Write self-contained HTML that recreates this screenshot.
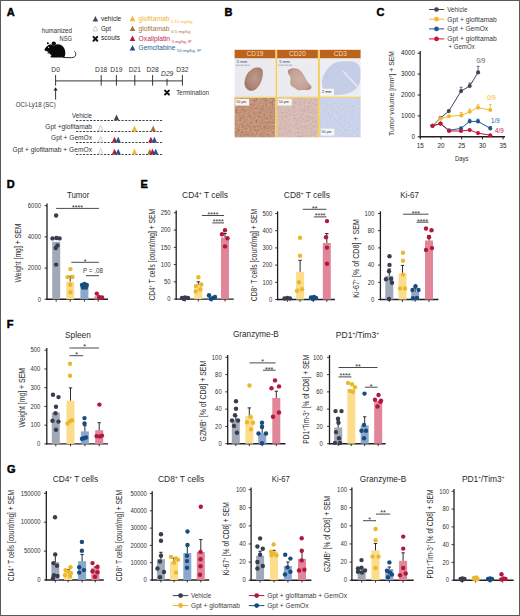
<!DOCTYPE html>
<html><head><meta charset="utf-8"><title>Figure</title>
<style>
html,body{margin:0;padding:0;background:#fff;}
svg{display:block;}
text{font-family:"Liberation Sans", sans-serif;}
</style></head>
<body>
<svg width="520" height="616" viewBox="0 0 520 616">
<defs>
<radialGradient id="g19" cx="0.55" cy="0.45" r="0.6"><stop offset="0" stop-color="#bd9a8a"/><stop offset="0.7" stop-color="#ad8574"/><stop offset="1" stop-color="#9c7462"/></radialGradient>
<radialGradient id="g20" cx="0.5" cy="0.5" r="0.6"><stop offset="0" stop-color="#cdb0a8"/><stop offset="0.75" stop-color="#c2a196"/><stop offset="1" stop-color="#b08c80"/></radialGradient>
<filter id="tex1" x="0" y="0" width="1" height="1" color-interpolation-filters="sRGB"><feTurbulence type="fractalNoise" baseFrequency="0.5" numOctaves="2" seed="3" result="n"/>
<feColorMatrix in="n" type="matrix" values="0 0 0 0 0.60  0 0 0 0 0.39  0 0 0 0 0.30  2.0 0 0 0 -0.9" result="d"/>
<feColorMatrix in="n" type="matrix" values="0 0 0 0 0.86  0 0 0 0 0.70  0 0 0 0 0.60  0 1.8 0 0 -0.85" result="l"/>
<feMerge result="m"><feMergeNode in="d"/><feMergeNode in="l"/></feMerge><feComposite in="m" in2="SourceGraphic" operator="atop"/></filter>
<filter id="tex2" x="0" y="0" width="1" height="1" color-interpolation-filters="sRGB"><feTurbulence type="fractalNoise" baseFrequency="0.5" numOctaves="2" seed="5" result="n"/>
<feColorMatrix in="n" type="matrix" values="0 0 0 0 0.74  0 0 0 0 0.60  0 0 0 0 0.58  1.8 0 0 0 -0.85" result="d"/>
<feColorMatrix in="n" type="matrix" values="0 0 0 0 0.90  0 0 0 0 0.82  0 0 0 0 0.81  0 1.6 0 0 -0.8" result="l"/>
<feMerge result="m"><feMergeNode in="d"/><feMergeNode in="l"/></feMerge><feComposite in="m" in2="SourceGraphic" operator="atop"/></filter>
<filter id="tex3" x="0" y="0" width="1" height="1" color-interpolation-filters="sRGB"><feTurbulence type="fractalNoise" baseFrequency="0.5" numOctaves="2" seed="7" result="n"/>
<feColorMatrix in="n" type="matrix" values="0 0 0 0 0.68  0 0 0 0 0.74  0 0 0 0 0.87  1.6 0 0 0 -0.8" result="d"/>
<feColorMatrix in="n" type="matrix" values="0 0 0 0 0.88  0 0 0 0 0.90  0 0 0 0 0.96  0 1.6 0 0 -0.8" result="l"/>
<feMerge result="m"><feMergeNode in="d"/><feMergeNode in="l"/></feMerge><feComposite in="m" in2="SourceGraphic" operator="atop"/></filter>
</defs>
<rect x="0" y="0" width="520" height="616" fill="#fff"/>
<text x="6.80" y="16.00" font-size="11" fill="#000" font-weight="bold" stroke="#000" stroke-width="0.45">A</text>
<text x="72.00" y="32.80" font-size="6.8" text-anchor="end" fill="#333" textLength="30.30" lengthAdjust="spacingAndGlyphs">humanized</text>
<text x="72.00" y="40.50" font-size="6.6" text-anchor="end" fill="#333" textLength="12.50" lengthAdjust="spacingAndGlyphs">NSG</text>
<path d="M44.4,49.7 C45.2,47.8 46.8,46.0 48.6,45.0 C50.2,44.3 52.5,44.6 54.5,45.2 C56.5,43.9 59.5,44.0 61.8,45.6 C64.2,47.4 65.6,50.5 65.3,53.5 C65.2,55.2 64.8,56.4 64.2,57.4 L51.5,57.4 C50.4,57.4 50.1,56.8 50.8,56.3 L51.6,55.8 C50.6,55.0 50.0,54.2 49.8,53.6 L48.0,53.5 C47.2,53.4 47.1,52.7 47.8,52.5 L48.8,52.2 C48.2,51.7 47.0,51.3 45.8,51.0 C45.0,50.8 44.5,50.3 44.4,49.7 Z" fill="#0a0a0a"/>
<ellipse cx="53.8" cy="43.4" rx="2.15" ry="1.95" fill="#0a0a0a"/>
<path d="M51.9,44.6 C52.6,45.3 53.8,45.5 55.0,45.2" stroke="#777" stroke-width="0.45" fill="none"/>
<circle cx="47.90" cy="43.20" r="1.0" fill="#0a0a0a" />
<circle cx="48.60" cy="47.30" r="0.6" fill="#fff" />
<path d="M63.5,57.5 L71.5,57.7 C74.5,57.7 76.0,56.0 75.8,53.6 C75.7,52.6 75.2,51.8 74.6,51.4" fill="none" stroke="#222" stroke-width="0.95" stroke-linecap="round"/>
<polygon points="92.60,21.40 95.40,15.90 98.20,21.40" fill="#454b5b"/>
<text x="101.00" y="20.90" font-size="6.6" fill="#231f20" textLength="20.20" lengthAdjust="spacingAndGlyphs">vehicle</text>
<polygon points="93.00,31.00 95.40,26.00 97.80,31.00" fill="#fff" stroke="#c2c4d2" stroke-width="0.8" stroke-linejoin="round"/>
<text x="101.00" y="30.80" font-size="6.6" fill="#231f20" textLength="10.00" lengthAdjust="spacingAndGlyphs">Gpt</text>
<path d="M93.50,36.90L97.30,40.70M97.30,36.90L93.50,40.70" stroke="#111" stroke-width="2.0" stroke-linecap="round"/>
<text x="101.00" y="40.30" font-size="6.6" fill="#231f20" textLength="19.00" lengthAdjust="spacingAndGlyphs">scouts</text>
<polygon points="129.70,21.20 132.50,15.80 135.30,21.20" fill="#f2b630"/>
<text x="138.60" y="21.00" font-size="6.8" fill="#f2b431" textLength="30.80" lengthAdjust="spacingAndGlyphs">glofitamab</text>
<text x="171.00" y="22.60" font-size="3.9" fill="#f2b431" textLength="21.50" lengthAdjust="spacingAndGlyphs">0.15 mg/kg</text>
<polygon points="129.70,31.10 132.50,25.70 135.30,31.10" fill="#a8703a"/>
<text x="138.60" y="31.00" font-size="6.8" fill="#a9733c" textLength="30.80" lengthAdjust="spacingAndGlyphs">glofitamab</text>
<text x="171.00" y="32.60" font-size="3.9" fill="#a9733c" textLength="19.50" lengthAdjust="spacingAndGlyphs">0.5 mg/kg</text>
<polygon points="129.70,40.90 132.50,35.50 135.30,40.90" fill="#b5173f"/>
<text x="138.60" y="40.80" font-size="6.8" fill="#c0284f" textLength="31.50" lengthAdjust="spacingAndGlyphs">Oxaliplatin</text>
<text x="172.00" y="42.60" font-size="3.9" fill="#c0284f" textLength="19.50" lengthAdjust="spacingAndGlyphs">5 mg/kg, IP</text>
<polygon points="129.70,50.40 132.50,45.00 135.30,50.40" fill="#1d4f86"/>
<text x="138.60" y="50.30" font-size="6.8" fill="#2a5f93" textLength="36.70" lengthAdjust="spacingAndGlyphs">Gemcitabine</text>
<text x="177.00" y="52.20" font-size="3.9" fill="#2a5f93" textLength="24.00" lengthAdjust="spacingAndGlyphs">50 mg/kg, IP</text>
<line x1="55.60" y1="80.90" x2="182.40" y2="80.90" stroke="#231f20" stroke-width="0.9" />
<line x1="55.60" y1="75.00" x2="55.60" y2="85.60" stroke="#231f20" stroke-width="0.9" />
<text x="55.60" y="71.80" font-size="6.7" text-anchor="middle" fill="#333">D0</text>
<line x1="101.20" y1="75.00" x2="101.20" y2="85.60" stroke="#231f20" stroke-width="0.9" />
<text x="101.20" y="71.80" font-size="6.7" text-anchor="middle" fill="#333">D18</text>
<line x1="116.40" y1="75.00" x2="116.40" y2="85.60" stroke="#231f20" stroke-width="0.9" />
<text x="116.40" y="71.80" font-size="6.7" text-anchor="middle" fill="#333">D19</text>
<line x1="134.80" y1="75.00" x2="134.80" y2="85.60" stroke="#231f20" stroke-width="0.9" />
<text x="134.80" y="71.80" font-size="6.7" text-anchor="middle" fill="#333">D21</text>
<line x1="152.60" y1="75.00" x2="152.60" y2="85.60" stroke="#231f20" stroke-width="0.9" />
<text x="152.60" y="71.80" font-size="6.7" text-anchor="middle" fill="#333">D28</text>
<line x1="182.40" y1="75.00" x2="182.40" y2="85.60" stroke="#231f20" stroke-width="0.9" />
<text x="182.40" y="71.80" font-size="6.7" text-anchor="middle" fill="#333">D32</text>
<line x1="167.00" y1="78.80" x2="167.00" y2="85.60" stroke="#231f20" stroke-width="0.9" />
<text x="167.20" y="75.60" font-size="6.7" text-anchor="middle" fill="#333" font-style="italic">D29</text>
<line x1="55.60" y1="99.60" x2="55.60" y2="89.50" stroke="#231f20" stroke-width="0.9" />
<polygon points="53.6,90.6 55.6,87.2 57.6,90.6" fill="#231f20"/>
<text x="15.80" y="106.80" font-size="6.6" fill="#333" textLength="40.00" lengthAdjust="spacingAndGlyphs">OCI-Ly18 (SC)</text>
<path d="M165.05,90.65L168.95,94.55M168.95,90.65L165.05,94.55" stroke="#111" stroke-width="2.0" stroke-linecap="round"/>
<text x="176.20" y="94.50" font-size="6.4" fill="#333" textLength="32.80" lengthAdjust="spacingAndGlyphs">Termination</text>
<line x1="76.0" y1="120.5" x2="162.1" y2="120.5" stroke="#444" stroke-width="1.0" stroke-dasharray="2.2,1.3"/>
<text x="92.00" y="118.20" font-size="6.3" text-anchor="end" fill="#333" textLength="20.00" lengthAdjust="spacingAndGlyphs">Vehicle</text>
<line x1="76.0" y1="131.5" x2="162.1" y2="131.5" stroke="#444" stroke-width="1.0" stroke-dasharray="2.2,1.3"/>
<text x="92.00" y="129.20" font-size="6.3" text-anchor="end" fill="#333" textLength="46.70" lengthAdjust="spacingAndGlyphs">Gpt +glofitamab</text>
<line x1="76.0" y1="142.5" x2="162.1" y2="142.5" stroke="#444" stroke-width="1.0" stroke-dasharray="2.2,1.3"/>
<text x="92.00" y="140.20" font-size="6.3" text-anchor="end" fill="#333" textLength="40.90" lengthAdjust="spacingAndGlyphs">Gpt + GemOx</text>
<line x1="76.0" y1="154.5" x2="162.1" y2="154.5" stroke="#444" stroke-width="1.0" stroke-dasharray="2.2,1.3"/>
<text x="92.00" y="152.20" font-size="6.3" text-anchor="end" fill="#333" textLength="79.50" lengthAdjust="spacingAndGlyphs">Gpt + glofitamab + GemOx</text>
<polygon points="113.80,120.20 116.50,114.40 119.20,120.20" fill="#3f4554"/>
<polygon points="98.20,130.80 100.60,125.30 103.00,130.80" fill="#fff" stroke="#c0c2cf" stroke-width="0.8" stroke-linejoin="round"/>
<polygon points="98.20,142.10 100.60,136.60 103.00,142.10" fill="#fff" stroke="#c0c2cf" stroke-width="0.8" stroke-linejoin="round"/>
<polygon points="98.20,154.10 100.60,148.60 103.00,154.10" fill="#fff" stroke="#c0c2cf" stroke-width="0.8" stroke-linejoin="round"/>
<polygon points="131.80,131.20 134.50,125.40 137.20,131.20" fill="#f2b630"/>
<polygon points="150.50,131.20 153.20,125.40 155.90,131.20" fill="#b06f35"/>
<polygon points="111.80,142.50 114.50,136.70 117.20,142.50" fill="#b8173f"/>
<polygon points="115.50,142.50 118.20,136.70 120.90,142.50" fill="#1e5a8c"/>
<polygon points="111.80,154.50 114.50,148.70 117.20,154.50" fill="#b8173f"/>
<polygon points="115.50,154.50 118.20,148.70 120.90,154.50" fill="#1e5a8c"/>
<polygon points="148.20,142.50 150.90,136.70 153.60,142.50" fill="#b8173f"/>
<polygon points="151.70,142.50 154.40,136.70 157.10,142.50" fill="#1e5a8c"/>
<polygon points="131.80,154.50 134.50,148.70 137.20,154.50" fill="#f2b630"/>
<polygon points="147.20,154.50 149.90,148.70 152.60,154.50" fill="#b06f35"/>
<polygon points="149.80,154.50 152.50,148.70 155.20,154.50" fill="#b8173f"/>
<polygon points="153.00,154.50 155.70,148.70 158.40,154.50" fill="#1e5a8c"/>
<text x="224.60" y="16.40" font-size="11" fill="#000" font-weight="bold" stroke="#000" stroke-width="0.45">B</text>
<rect x="234.60" y="49.80" width="40.90" height="8.70" fill="#b9631d" />
<text x="255.05" y="56.30" font-size="6.6" text-anchor="middle" fill="#f9dcb0">CD19</text>
<rect x="277.10" y="49.80" width="40.80" height="8.70" fill="#b9631d" />
<text x="297.50" y="56.30" font-size="6.6" text-anchor="middle" fill="#f9dcb0">CD20</text>
<rect x="319.90" y="49.80" width="40.70" height="8.70" fill="#b9631d" />
<text x="340.25" y="56.30" font-size="6.6" text-anchor="middle" fill="#f9dcb0">CD3</text>
<rect x="234.60" y="58.50" width="40.90" height="38.00" fill="#ebeaef" />
<rect x="277.10" y="58.50" width="40.80" height="38.00" fill="#ecebef" />
<rect x="319.90" y="58.50" width="40.70" height="38.00" fill="#eceef4" />
<rect x="234.60" y="98.00" width="40.90" height="39.30" fill="#c4957a" filter="url(#tex1)"/>
<rect x="277.10" y="98.00" width="40.80" height="39.30" fill="#d8bdb7" filter="url(#tex2)"/>
<rect x="319.90" y="98.00" width="40.70" height="39.30" fill="#cbd3ea" filter="url(#tex3)"/>
<rect x="275.50" y="49.80" width="1.60" height="87.50" fill="#f3cf5e" />
<rect x="317.90" y="49.80" width="2.00" height="87.50" fill="#f3cf5e" />
<rect x="234.60" y="96.50" width="126.00" height="1.50" fill="#f1d27a" />
<path d="M251.5,70.0 C254,67.6 258.5,67.0 261.0,68.6 C263.2,70.4 262.8,75.0 261.5,79.5 C260.0,84.5 257.0,89.5 252.5,90.4 C248.5,91.0 245.5,88.5 244.9,84.5 C244.4,80.5 246.0,76.5 247.8,73.5 C248.8,72.0 250.0,70.9 251.5,70.0 Z" fill="url(#g19)" stroke="#9a7262" stroke-width="0.5"/>
<path d="M288.5,69.8 C291,67.8 295.5,67.8 298.5,69.2 C301.5,70.8 303,73.5 304.8,77 C306.5,80.5 308.5,83.2 311,85.8 C312.3,87.6 311,89.6 308.2,89.9 C305,90.3 302.5,89.6 300.5,90.2 C298.5,90.8 296.8,89.5 295.5,88.5 C293,87 290.5,86.2 290.2,83.5 C290,80.8 291.2,78.5 289.8,76.2 C288.2,74 287,71.8 288.5,69.8 Z" fill="url(#g20)"/>
<path d="M322.0,80.5 C323.5,73 328.5,66 335.5,62.5 C340,61.2 347,61.0 352.5,61.5 C357,62.2 360.2,65.5 360.4,70.5 L360.4,79.5 C360,84.5 357.5,88.5 352.5,91.2 C346.5,94.5 338.5,95.6 331.5,94.8 C326,94 322.6,89.8 322.1,85.5 C321.9,83.8 321.8,82.2 322.0,80.5 Z" fill="#c6cde7"/>
<path d="M343.5,71.5 C347.5,76 352,81 357.5,86.5" stroke="#e4e7f1" stroke-width="1.8" stroke-linecap="round" fill="none"/>
<path d="M336,64 C331,68 327,74 325.5,80" stroke="#b8c0de" stroke-width="0.8" fill="none" opacity="0.6"/>
<text x="236.80" y="63.00" font-size="3.8" fill="#2c4a7a" textLength="10.50" lengthAdjust="spacingAndGlyphs">5 mm</text>
<line x1="235.80" y1="65.2" x2="249.80" y2="65.2" stroke="#3a5a8a" stroke-width="0.6" stroke-dasharray="0.8,0.5"/>
<text x="279.30" y="63.00" font-size="3.8" fill="#2c4a7a" textLength="10.50" lengthAdjust="spacingAndGlyphs">5 mm</text>
<line x1="278.30" y1="65.2" x2="292.30" y2="65.2" stroke="#3a5a8a" stroke-width="0.6" stroke-dasharray="0.8,0.5"/>
<rect x="321.00" y="88.80" width="13.00" height="6.60" fill="#f6f6f8" />
<text x="322.00" y="93.30" font-size="3.8" fill="#222" textLength="9.50" lengthAdjust="spacingAndGlyphs">2 mm</text>
<rect x="235.20" y="98.80" width="14.00" height="6.80" fill="#f8f4f0" />
<text x="236.20" y="103.00" font-size="3.6" fill="#333" textLength="10.00" lengthAdjust="spacingAndGlyphs">50 µm</text>
<rect x="277.70" y="98.80" width="14.00" height="6.80" fill="#f8f4f0" />
<text x="278.70" y="103.00" font-size="3.6" fill="#333" textLength="10.00" lengthAdjust="spacingAndGlyphs">50 µm</text>
<rect x="320.80" y="128.60" width="13.50" height="7.00" fill="#f6f7fa" />
<text x="321.60" y="133.00" font-size="3.6" fill="#333" textLength="10.00" lengthAdjust="spacingAndGlyphs">50 µm</text>
<text x="376.60" y="16.30" font-size="11" fill="#000" font-weight="bold" stroke="#000" stroke-width="0.45">C</text>
<line x1="429.00" y1="9.50" x2="444.20" y2="9.50" stroke="#3d4656" stroke-width="1.0" />
<circle cx="436.50" cy="9.50" r="2.35" fill="#3d4656" />
<text x="447.30" y="11.90" font-size="6.5" fill="#3a3a3a" textLength="20.10" lengthAdjust="spacingAndGlyphs">Vehicle</text>
<line x1="429.00" y1="19.20" x2="444.20" y2="19.20" stroke="#f3b82d" stroke-width="1.0" />
<circle cx="436.50" cy="19.20" r="2.35" fill="#f3b82d" />
<text x="447.30" y="21.60" font-size="6.5" fill="#3a3a3a" textLength="49.40" lengthAdjust="spacingAndGlyphs">Gpt + glofitamab</text>
<line x1="429.00" y1="28.90" x2="444.20" y2="28.90" stroke="#1b5a93" stroke-width="1.0" />
<circle cx="436.50" cy="28.90" r="2.35" fill="#1b5a93" />
<text x="447.30" y="31.30" font-size="6.5" fill="#3a3a3a" textLength="40.80" lengthAdjust="spacingAndGlyphs">Gpt + GemOx</text>
<line x1="429.00" y1="38.90" x2="444.20" y2="38.90" stroke="#c8103e" stroke-width="1.0" />
<circle cx="436.50" cy="38.90" r="2.35" fill="#c8103e" />
<text x="447.30" y="41.30" font-size="6.5" fill="#3a3a3a" textLength="49.40" lengthAdjust="spacingAndGlyphs">Gpt + glofitamab</text>
<text x="448.40" y="49.00" font-size="6.5" fill="#3a3a3a" textLength="26.30" lengthAdjust="spacingAndGlyphs">+ GemOx</text>
<line x1="420.20" y1="50.90" x2="420.20" y2="137.40" stroke="#231f20" stroke-width="1.3" />
<line x1="419.60" y1="136.80" x2="505.00" y2="136.80" stroke="#231f20" stroke-width="1.4" />
<line x1="417.60" y1="136.80" x2="420.20" y2="136.80" stroke="#231f20" stroke-width="1.0" />
<text x="415.00" y="139.00" font-size="6.3" text-anchor="end" fill="#231f20">0</text>
<line x1="417.60" y1="115.90" x2="420.20" y2="115.90" stroke="#231f20" stroke-width="1.0" />
<text x="415.00" y="118.10" font-size="6.3" text-anchor="end" fill="#231f20">1000</text>
<line x1="417.60" y1="95.00" x2="420.20" y2="95.00" stroke="#231f20" stroke-width="1.0" />
<text x="415.00" y="97.20" font-size="6.3" text-anchor="end" fill="#231f20">2000</text>
<line x1="417.60" y1="74.10" x2="420.20" y2="74.10" stroke="#231f20" stroke-width="1.0" />
<text x="415.00" y="76.30" font-size="6.3" text-anchor="end" fill="#231f20">3000</text>
<line x1="417.60" y1="53.20" x2="420.20" y2="53.20" stroke="#231f20" stroke-width="1.0" />
<text x="415.00" y="55.40" font-size="6.3" text-anchor="end" fill="#231f20">4000</text>
<line x1="420.30" y1="136.80" x2="420.30" y2="139.40" stroke="#231f20" stroke-width="1.0" />
<text x="420.30" y="148.40" font-size="6.3" text-anchor="middle" fill="#231f20">15</text>
<line x1="441.00" y1="136.80" x2="441.00" y2="139.40" stroke="#231f20" stroke-width="1.0" />
<text x="441.00" y="148.40" font-size="6.3" text-anchor="middle" fill="#231f20">20</text>
<line x1="461.70" y1="136.80" x2="461.70" y2="139.40" stroke="#231f20" stroke-width="1.0" />
<text x="461.70" y="148.40" font-size="6.3" text-anchor="middle" fill="#231f20">25</text>
<line x1="482.40" y1="136.80" x2="482.40" y2="139.40" stroke="#231f20" stroke-width="1.0" />
<text x="482.40" y="148.40" font-size="6.3" text-anchor="middle" fill="#231f20">30</text>
<line x1="503.10" y1="136.80" x2="503.10" y2="139.40" stroke="#231f20" stroke-width="1.0" />
<text x="503.10" y="148.40" font-size="6.3" text-anchor="middle" fill="#231f20">35</text>
<text x="455.00" y="160.60" font-size="7.6" fill="#2e2e2e" textLength="13.40" lengthAdjust="spacingAndGlyphs">Days</text>
<text x="394.30" y="136.00" font-size="7.2" fill="#2e2e2e" textLength="85.00" lengthAdjust="spacingAndGlyphs" transform="rotate(-90 394.30 136.00)">Tumor volume [mm<tspan font-size="4.2" dy="-2.6">3</tspan><tspan dy="2.6">] + SEM</tspan></text>
<line x1="461.10" y1="91.10" x2="461.10" y2="87.30" stroke="#3d4656" stroke-width="0.8" />
<line x1="459.70" y1="87.30" x2="462.50" y2="87.30" stroke="#3d4656" stroke-width="0.8" />
<line x1="469.70" y1="86.00" x2="469.70" y2="83.00" stroke="#3d4656" stroke-width="0.8" />
<line x1="468.30" y1="83.00" x2="471.10" y2="83.00" stroke="#3d4656" stroke-width="0.8" />
<line x1="478.10" y1="72.40" x2="478.10" y2="66.30" stroke="#3d4656" stroke-width="0.8" />
<line x1="476.70" y1="66.30" x2="479.50" y2="66.30" stroke="#3d4656" stroke-width="0.8" />
<line x1="461.30" y1="115.40" x2="461.30" y2="112.50" stroke="#f3b82d" stroke-width="0.8" />
<line x1="459.90" y1="112.50" x2="462.70" y2="112.50" stroke="#f3b82d" stroke-width="0.8" />
<line x1="469.70" y1="111.70" x2="469.70" y2="108.80" stroke="#f3b82d" stroke-width="0.8" />
<line x1="468.30" y1="108.80" x2="471.10" y2="108.80" stroke="#f3b82d" stroke-width="0.8" />
<line x1="478.00" y1="107.60" x2="478.00" y2="104.80" stroke="#f3b82d" stroke-width="0.8" />
<line x1="476.60" y1="104.80" x2="479.40" y2="104.80" stroke="#f3b82d" stroke-width="0.8" />
<line x1="490.30" y1="110.00" x2="490.30" y2="104.50" stroke="#f3b82d" stroke-width="0.8" />
<line x1="488.90" y1="104.50" x2="491.70" y2="104.50" stroke="#f3b82d" stroke-width="0.8" />
<line x1="469.70" y1="121.40" x2="469.70" y2="119.20" stroke="#1b5a93" stroke-width="0.8" />
<line x1="468.30" y1="119.20" x2="471.10" y2="119.20" stroke="#1b5a93" stroke-width="0.8" />
<line x1="478.00" y1="121.40" x2="478.00" y2="119.20" stroke="#1b5a93" stroke-width="0.8" />
<line x1="476.60" y1="119.20" x2="479.40" y2="119.20" stroke="#1b5a93" stroke-width="0.8" />
<line x1="490.30" y1="128.40" x2="490.30" y2="126.50" stroke="#1b5a93" stroke-width="0.8" />
<line x1="488.90" y1="126.50" x2="491.70" y2="126.50" stroke="#1b5a93" stroke-width="0.8" />
<path d="M432.5,125.8 L440.5,118.1 L448.8,111.1 L461.1,91.1 L469.7,86.0 L478.1,72.4" fill="none" stroke="#3d4656" stroke-width="1.0"/>
<circle cx="432.50" cy="125.80" r="2.05" fill="#3d4656" />
<circle cx="440.50" cy="118.10" r="2.05" fill="#3d4656" />
<circle cx="448.80" cy="111.10" r="2.05" fill="#3d4656" />
<circle cx="461.10" cy="91.10" r="2.05" fill="#3d4656" />
<circle cx="469.70" cy="86.00" r="2.05" fill="#3d4656" />
<circle cx="478.10" cy="72.40" r="2.05" fill="#3d4656" />
<path d="M432.5,125.8 L440.5,118.6 L449.0,116.3 L461.3,115.4 L469.7,111.7 L478.0,107.6 L490.3,110.0" fill="none" stroke="#f3b82d" stroke-width="1.0"/>
<circle cx="432.50" cy="125.80" r="2.05" fill="#f3b82d" />
<circle cx="440.50" cy="118.60" r="2.05" fill="#f3b82d" />
<circle cx="449.00" cy="116.30" r="2.05" fill="#f3b82d" />
<circle cx="461.30" cy="115.40" r="2.05" fill="#f3b82d" />
<circle cx="469.70" cy="111.70" r="2.05" fill="#f3b82d" />
<circle cx="478.00" cy="107.60" r="2.05" fill="#f3b82d" />
<circle cx="490.30" cy="110.00" r="2.05" fill="#f3b82d" />
<path d="M432.5,125.8 L440.5,123.6 L449.0,130.3 L461.0,128.4 L469.7,121.4 L478.0,121.4 L490.3,128.4" fill="none" stroke="#1b5a93" stroke-width="1.0"/>
<circle cx="432.50" cy="125.80" r="2.05" fill="#1b5a93" />
<circle cx="440.50" cy="123.60" r="2.05" fill="#1b5a93" />
<circle cx="449.00" cy="130.30" r="2.05" fill="#1b5a93" />
<circle cx="461.00" cy="128.40" r="2.05" fill="#1b5a93" />
<circle cx="469.70" cy="121.40" r="2.05" fill="#1b5a93" />
<circle cx="478.00" cy="121.40" r="2.05" fill="#1b5a93" />
<circle cx="490.30" cy="128.40" r="2.05" fill="#1b5a93" />
<path d="M432.5,125.8 L440.5,123.6 L449.0,131.0 L461.0,131.0 L469.7,130.0 L478.0,133.1 L490.3,135.2" fill="none" stroke="#c8103e" stroke-width="1.0"/>
<circle cx="432.50" cy="125.80" r="2.05" fill="#c8103e" />
<circle cx="440.50" cy="123.60" r="2.05" fill="#c8103e" />
<circle cx="449.00" cy="131.00" r="2.05" fill="#c8103e" />
<circle cx="461.00" cy="131.00" r="2.05" fill="#c8103e" />
<circle cx="469.70" cy="130.00" r="2.05" fill="#c8103e" />
<circle cx="478.00" cy="133.10" r="2.05" fill="#c8103e" />
<circle cx="490.30" cy="135.20" r="2.05" fill="#c8103e" />
<text x="481.00" y="63.20" font-size="6.3" text-anchor="middle" fill="#555">0/9</text>
<text x="491.30" y="100.10" font-size="6.3" text-anchor="middle" fill="#f3b82d">0/9</text>
<text x="495.50" y="122.80" font-size="6.3" text-anchor="middle" fill="#2a65a0">1/9</text>
<text x="499.40" y="133.40" font-size="6.3" text-anchor="middle" fill="#c8103e">4/9</text>
<text x="6.80" y="188.20" font-size="11" fill="#000" font-weight="bold" stroke="#000" stroke-width="0.45">D</text>
<line x1="47.00" y1="203.50" x2="47.00" y2="300.00" stroke="#231f20" stroke-width="1.3" />
<line x1="46.35" y1="299.30" x2="108.00" y2="299.30" stroke="#231f20" stroke-width="1.4" />
<line x1="44.60" y1="299.30" x2="47.00" y2="299.30" stroke="#231f20" stroke-width="0.9" />
<text x="41.00" y="301.50" font-size="6.6" text-anchor="end" fill="#333" textLength="3.30" lengthAdjust="spacingAndGlyphs">0</text>
<line x1="44.60" y1="268.10" x2="47.00" y2="268.10" stroke="#231f20" stroke-width="0.9" />
<text x="41.00" y="270.30" font-size="6.6" text-anchor="end" fill="#333" textLength="13.20" lengthAdjust="spacingAndGlyphs">2000</text>
<line x1="44.60" y1="236.90" x2="47.00" y2="236.90" stroke="#231f20" stroke-width="0.9" />
<text x="41.00" y="239.10" font-size="6.6" text-anchor="end" fill="#333" textLength="13.20" lengthAdjust="spacingAndGlyphs">4000</text>
<line x1="44.60" y1="205.70" x2="47.00" y2="205.70" stroke="#231f20" stroke-width="0.9" />
<text x="41.00" y="207.90" font-size="6.6" text-anchor="end" fill="#333" textLength="13.20" lengthAdjust="spacingAndGlyphs">6000</text>
<text x="20.90" y="282.50" font-size="8.2" fill="#2e2e2e" textLength="58.90" lengthAdjust="spacingAndGlyphs" transform="rotate(-90 20.90 282.50)">Weight [mg] + SEM</text>
<text x="67.00" y="198.30" font-size="8.2" fill="#2a2a2a" textLength="22.30" lengthAdjust="spacingAndGlyphs">Tumor</text>
<line x1="56.20" y1="299.30" x2="56.20" y2="301.70" stroke="#231f20" stroke-width="0.9" />
<rect x="52.20" y="241.80" width="8.00" height="57.50" fill="#a1a9b8" />
<circle cx="56.10" cy="215.50" r="2.2" fill="#383d4d" />
<circle cx="52.50" cy="238.40" r="2.2" fill="#383d4d" />
<circle cx="56.40" cy="238.00" r="2.2" fill="#383d4d" />
<circle cx="59.60" cy="238.40" r="2.2" fill="#383d4d" />
<circle cx="57.50" cy="245.40" r="2.2" fill="#383d4d" />
<circle cx="55.70" cy="248.00" r="2.2" fill="#383d4d" />
<circle cx="56.10" cy="264.60" r="2.2" fill="#383d4d" />
<line x1="70.20" y1="299.30" x2="70.20" y2="301.70" stroke="#231f20" stroke-width="0.9" />
<rect x="66.20" y="281.50" width="8.00" height="17.80" fill="#fcdd8c" />
<line x1="70.20" y1="281.50" x2="70.20" y2="276.30" stroke="#2b2b2b" stroke-width="1.0" />
<line x1="68.50" y1="276.30" x2="71.90" y2="276.30" stroke="#2b2b2b" stroke-width="1.0" />
<circle cx="70.40" cy="269.10" r="2.2" fill="#eab82a" />
<circle cx="67.50" cy="277.10" r="2.2" fill="#eab82a" />
<circle cx="72.50" cy="277.00" r="2.2" fill="#eab82a" />
<circle cx="70.20" cy="284.80" r="2.2" fill="#eab82a" />
<circle cx="70.40" cy="292.30" r="2.2" fill="#eab82a" />
<line x1="84.40" y1="299.30" x2="84.40" y2="301.70" stroke="#231f20" stroke-width="0.9" />
<rect x="80.40" y="286.00" width="8.00" height="13.30" fill="#8ca7cb" />
<circle cx="82.00" cy="285.00" r="2.2" fill="#174c7c" />
<circle cx="84.40" cy="284.00" r="2.2" fill="#174c7c" />
<circle cx="86.80" cy="285.00" r="2.2" fill="#174c7c" />
<circle cx="83.00" cy="287.50" r="2.2" fill="#174c7c" />
<circle cx="86.00" cy="287.50" r="2.2" fill="#174c7c" />
<line x1="98.20" y1="299.30" x2="98.20" y2="301.70" stroke="#231f20" stroke-width="0.9" />
<rect x="94.20" y="296.40" width="8.00" height="2.90" fill="#e18598" />
<circle cx="96.80" cy="293.60" r="2.2" fill="#b3173f" />
<circle cx="99.00" cy="297.00" r="2.2" fill="#b3173f" />
<circle cx="102.00" cy="297.50" r="2.2" fill="#b3173f" />
<line x1="56.10" y1="208.40" x2="98.90" y2="208.40" stroke="#4a4a4a" stroke-width="1.0" />
<text x="77.50" y="209.70" font-size="7.0" text-anchor="middle" fill="#2a2a2a">****</text>
<line x1="71.30" y1="262.30" x2="98.90" y2="262.30" stroke="#4a4a4a" stroke-width="1.0" />
<text x="85.10" y="263.60" font-size="7.0" text-anchor="middle" fill="#2a2a2a">*</text>
<line x1="86.00" y1="275.70" x2="98.90" y2="275.70" stroke="#4a4a4a" stroke-width="1.0" />
<text x="82.90" y="272.80" font-size="6.4" fill="#3a3a3a" textLength="20.00" lengthAdjust="spacingAndGlyphs">P = .08</text>
<text x="140.40" y="187.60" font-size="11" fill="#000" font-weight="bold" stroke="#000" stroke-width="0.45">E</text>
<line x1="176.20" y1="210.60" x2="176.20" y2="299.80" stroke="#231f20" stroke-width="1.3" />
<line x1="175.55" y1="299.10" x2="233.80" y2="299.10" stroke="#231f20" stroke-width="1.4" />
<line x1="173.80" y1="299.10" x2="176.20" y2="299.10" stroke="#231f20" stroke-width="0.9" />
<text x="170.60" y="301.30" font-size="6.6" text-anchor="end" fill="#333" textLength="3.30" lengthAdjust="spacingAndGlyphs">0</text>
<line x1="173.80" y1="281.84" x2="176.20" y2="281.84" stroke="#231f20" stroke-width="0.9" />
<text x="170.60" y="284.04" font-size="6.6" text-anchor="end" fill="#333" textLength="6.60" lengthAdjust="spacingAndGlyphs">50</text>
<line x1="173.80" y1="264.58" x2="176.20" y2="264.58" stroke="#231f20" stroke-width="0.9" />
<text x="170.60" y="266.78" font-size="6.6" text-anchor="end" fill="#333" textLength="9.90" lengthAdjust="spacingAndGlyphs">100</text>
<line x1="173.80" y1="247.32" x2="176.20" y2="247.32" stroke="#231f20" stroke-width="0.9" />
<text x="170.60" y="249.52" font-size="6.6" text-anchor="end" fill="#333" textLength="9.90" lengthAdjust="spacingAndGlyphs">150</text>
<line x1="173.80" y1="230.06" x2="176.20" y2="230.06" stroke="#231f20" stroke-width="0.9" />
<text x="170.60" y="232.26" font-size="6.6" text-anchor="end" fill="#333" textLength="9.90" lengthAdjust="spacingAndGlyphs">200</text>
<line x1="173.80" y1="212.80" x2="176.20" y2="212.80" stroke="#231f20" stroke-width="0.9" />
<text x="170.60" y="215.00" font-size="6.6" text-anchor="end" fill="#333" textLength="9.90" lengthAdjust="spacingAndGlyphs">250</text>
<text x="154.60" y="300.60" font-size="8.2" fill="#2e2e2e" textLength="91.60" lengthAdjust="spacingAndGlyphs" transform="rotate(-90 154.60 300.60)">CD4<tspan font-size="0.55em" dy="-3px">+</tspan><tspan dy="3px"> T cells [count/mg] + SEM</tspan></text>
<text x="182.10" y="197.90" font-size="8.2" fill="#2a2a2a" textLength="46.00" lengthAdjust="spacingAndGlyphs">CD4<tspan font-size="0.55em" dy="-3px">+</tspan><tspan dy="3px"> T cells</tspan></text>
<line x1="185.20" y1="299.10" x2="185.20" y2="301.50" stroke="#231f20" stroke-width="0.9" />
<rect x="181.20" y="298.20" width="8.00" height="0.90" fill="#a1a9b8" />
<circle cx="182.00" cy="298.00" r="2.2" fill="#383d4d" />
<circle cx="185.00" cy="297.50" r="2.2" fill="#383d4d" />
<circle cx="188.00" cy="298.00" r="2.2" fill="#383d4d" />
<circle cx="184.00" cy="299.00" r="2.2" fill="#383d4d" />
<line x1="198.30" y1="299.10" x2="198.30" y2="301.50" stroke="#231f20" stroke-width="0.9" />
<rect x="194.30" y="284.50" width="8.00" height="14.60" fill="#fcdd8c" />
<line x1="198.30" y1="284.50" x2="198.30" y2="281.80" stroke="#2b2b2b" stroke-width="1.0" />
<line x1="196.60" y1="281.80" x2="200.00" y2="281.80" stroke="#2b2b2b" stroke-width="1.0" />
<circle cx="198.40" cy="277.20" r="2.2" fill="#eab82a" />
<circle cx="196.00" cy="286.10" r="2.2" fill="#eab82a" />
<circle cx="201.30" cy="284.50" r="2.2" fill="#eab82a" />
<circle cx="200.40" cy="289.40" r="2.2" fill="#eab82a" />
<circle cx="195.70" cy="291.40" r="2.2" fill="#eab82a" />
<line x1="211.60" y1="299.10" x2="211.60" y2="301.50" stroke="#231f20" stroke-width="0.9" />
<rect x="207.60" y="297.00" width="8.00" height="2.10" fill="#8ca7cb" />
<circle cx="209.00" cy="295.30" r="2.2" fill="#174c7c" />
<circle cx="213.00" cy="298.00" r="2.2" fill="#174c7c" />
<circle cx="215.00" cy="297.00" r="2.2" fill="#174c7c" />
<circle cx="211.00" cy="299.00" r="2.2" fill="#174c7c" />
<line x1="225.00" y1="299.10" x2="225.00" y2="301.50" stroke="#231f20" stroke-width="0.9" />
<rect x="221.00" y="237.50" width="8.00" height="61.60" fill="#e18598" />
<line x1="225.00" y1="237.50" x2="225.00" y2="233.50" stroke="#2b2b2b" stroke-width="1.0" />
<line x1="223.30" y1="233.50" x2="226.70" y2="233.50" stroke="#2b2b2b" stroke-width="1.0" />
<circle cx="225.00" cy="230.20" r="2.2" fill="#b3173f" />
<circle cx="222.00" cy="234.20" r="2.2" fill="#b3173f" />
<circle cx="227.50" cy="238.30" r="2.2" fill="#b3173f" />
<circle cx="225.00" cy="246.40" r="2.2" fill="#b3173f" />
<line x1="201.90" y1="215.50" x2="224.10" y2="215.50" stroke="#4a4a4a" stroke-width="1.0" />
<text x="213.00" y="216.80" font-size="7.0" text-anchor="middle" fill="#2a2a2a">****</text>
<line x1="212.30" y1="222.90" x2="224.10" y2="222.90" stroke="#4a4a4a" stroke-width="1.0" />
<text x="218.20" y="224.20" font-size="7.0" text-anchor="middle" fill="#2a2a2a">****</text>
<line x1="277.60" y1="211.30" x2="277.60" y2="300.20" stroke="#231f20" stroke-width="1.3" />
<line x1="276.95" y1="299.50" x2="335.00" y2="299.50" stroke="#231f20" stroke-width="1.4" />
<line x1="275.20" y1="299.50" x2="277.60" y2="299.50" stroke="#231f20" stroke-width="0.9" />
<text x="272.30" y="301.70" font-size="6.6" text-anchor="end" fill="#333" textLength="3.30" lengthAdjust="spacingAndGlyphs">0</text>
<line x1="275.20" y1="282.30" x2="277.60" y2="282.30" stroke="#231f20" stroke-width="0.9" />
<text x="272.30" y="284.50" font-size="6.6" text-anchor="end" fill="#333" textLength="9.90" lengthAdjust="spacingAndGlyphs">100</text>
<line x1="275.20" y1="265.10" x2="277.60" y2="265.10" stroke="#231f20" stroke-width="0.9" />
<text x="272.30" y="267.30" font-size="6.6" text-anchor="end" fill="#333" textLength="9.90" lengthAdjust="spacingAndGlyphs">200</text>
<line x1="275.20" y1="247.90" x2="277.60" y2="247.90" stroke="#231f20" stroke-width="0.9" />
<text x="272.30" y="250.10" font-size="6.6" text-anchor="end" fill="#333" textLength="9.90" lengthAdjust="spacingAndGlyphs">300</text>
<line x1="275.20" y1="230.70" x2="277.60" y2="230.70" stroke="#231f20" stroke-width="0.9" />
<text x="272.30" y="232.90" font-size="6.6" text-anchor="end" fill="#333" textLength="9.90" lengthAdjust="spacingAndGlyphs">400</text>
<line x1="275.20" y1="213.50" x2="277.60" y2="213.50" stroke="#231f20" stroke-width="0.9" />
<text x="272.30" y="215.70" font-size="6.6" text-anchor="end" fill="#333" textLength="9.90" lengthAdjust="spacingAndGlyphs">500</text>
<text x="257.00" y="301.20" font-size="8.2" fill="#2e2e2e" textLength="92.40" lengthAdjust="spacingAndGlyphs" transform="rotate(-90 257.00 301.20)">CD8<tspan font-size="0.55em" dy="-3px">+</tspan><tspan dy="3px"> T cells [count/mg] + SEM</tspan></text>
<text x="283.80" y="197.90" font-size="8.2" fill="#2a2a2a" textLength="46.20" lengthAdjust="spacingAndGlyphs">CD8<tspan font-size="0.55em" dy="-3px">+</tspan><tspan dy="3px"> T cells</tspan></text>
<line x1="287.30" y1="299.50" x2="287.30" y2="301.90" stroke="#231f20" stroke-width="0.9" />
<rect x="283.30" y="298.50" width="8.00" height="1.00" fill="#a1a9b8" />
<circle cx="284.50" cy="298.50" r="2.2" fill="#383d4d" />
<circle cx="287.30" cy="298.00" r="2.2" fill="#383d4d" />
<circle cx="290.00" cy="298.50" r="2.2" fill="#383d4d" />
<line x1="300.10" y1="299.50" x2="300.10" y2="301.90" stroke="#231f20" stroke-width="0.9" />
<rect x="296.10" y="271.80" width="8.00" height="27.70" fill="#fcdd8c" />
<line x1="300.10" y1="271.80" x2="300.10" y2="260.30" stroke="#2b2b2b" stroke-width="1.0" />
<line x1="298.40" y1="260.30" x2="301.80" y2="260.30" stroke="#2b2b2b" stroke-width="1.0" />
<circle cx="300.00" cy="237.70" r="2.2" fill="#eab82a" />
<circle cx="300.00" cy="255.70" r="2.2" fill="#eab82a" />
<circle cx="299.00" cy="282.20" r="2.2" fill="#eab82a" />
<circle cx="302.00" cy="289.20" r="2.2" fill="#eab82a" />
<circle cx="297.00" cy="290.80" r="2.2" fill="#eab82a" />
<line x1="313.40" y1="299.50" x2="313.40" y2="301.90" stroke="#231f20" stroke-width="0.9" />
<rect x="309.40" y="298.00" width="8.00" height="1.50" fill="#8ca7cb" />
<circle cx="311.00" cy="297.50" r="2.2" fill="#174c7c" />
<circle cx="314.00" cy="297.00" r="2.2" fill="#174c7c" />
<circle cx="316.00" cy="298.00" r="2.2" fill="#174c7c" />
<circle cx="313.00" cy="299.00" r="2.2" fill="#174c7c" />
<line x1="326.80" y1="299.50" x2="326.80" y2="301.90" stroke="#231f20" stroke-width="0.9" />
<rect x="322.80" y="243.00" width="8.00" height="56.50" fill="#e18598" />
<line x1="326.80" y1="243.00" x2="326.80" y2="233.50" stroke="#2b2b2b" stroke-width="1.0" />
<line x1="325.10" y1="233.50" x2="328.50" y2="233.50" stroke="#2b2b2b" stroke-width="1.0" />
<circle cx="327.00" cy="221.10" r="2.2" fill="#b3173f" />
<circle cx="326.00" cy="237.20" r="2.2" fill="#b3173f" />
<circle cx="327.00" cy="247.60" r="2.2" fill="#b3173f" />
<circle cx="327.00" cy="263.80" r="2.2" fill="#b3173f" />
<line x1="302.80" y1="209.30" x2="326.50" y2="209.30" stroke="#4a4a4a" stroke-width="1.0" />
<text x="314.65" y="210.60" font-size="7.0" text-anchor="middle" fill="#2a2a2a">**</text>
<line x1="313.80" y1="216.90" x2="326.50" y2="216.90" stroke="#4a4a4a" stroke-width="1.0" />
<text x="320.15" y="218.20" font-size="7.0" text-anchor="middle" fill="#2a2a2a">****</text>
<line x1="380.40" y1="211.30" x2="380.40" y2="300.20" stroke="#231f20" stroke-width="1.3" />
<line x1="379.75" y1="299.50" x2="438.40" y2="299.50" stroke="#231f20" stroke-width="1.4" />
<line x1="378.00" y1="299.50" x2="380.40" y2="299.50" stroke="#231f20" stroke-width="0.9" />
<text x="374.40" y="301.70" font-size="6.6" text-anchor="end" fill="#333" textLength="3.30" lengthAdjust="spacingAndGlyphs">0</text>
<line x1="378.00" y1="282.30" x2="380.40" y2="282.30" stroke="#231f20" stroke-width="0.9" />
<text x="374.40" y="284.50" font-size="6.6" text-anchor="end" fill="#333" textLength="6.60" lengthAdjust="spacingAndGlyphs">20</text>
<line x1="378.00" y1="265.10" x2="380.40" y2="265.10" stroke="#231f20" stroke-width="0.9" />
<text x="374.40" y="267.30" font-size="6.6" text-anchor="end" fill="#333" textLength="6.60" lengthAdjust="spacingAndGlyphs">40</text>
<line x1="378.00" y1="247.90" x2="380.40" y2="247.90" stroke="#231f20" stroke-width="0.9" />
<text x="374.40" y="250.10" font-size="6.6" text-anchor="end" fill="#333" textLength="6.60" lengthAdjust="spacingAndGlyphs">60</text>
<line x1="378.00" y1="230.70" x2="380.40" y2="230.70" stroke="#231f20" stroke-width="0.9" />
<text x="374.40" y="232.90" font-size="6.6" text-anchor="end" fill="#333" textLength="6.60" lengthAdjust="spacingAndGlyphs">80</text>
<line x1="378.00" y1="213.50" x2="380.40" y2="213.50" stroke="#231f20" stroke-width="0.9" />
<text x="374.40" y="215.70" font-size="6.6" text-anchor="end" fill="#333" textLength="9.90" lengthAdjust="spacingAndGlyphs">100</text>
<text x="358.60" y="297.70" font-size="8.2" fill="#2e2e2e" textLength="78.50" lengthAdjust="spacingAndGlyphs" transform="rotate(-90 358.60 297.70)">Ki-67<tspan font-size="0.55em" dy="-3px">+</tspan><tspan dy="3px"> [% of CD8] + SEM</tspan></text>
<text x="400.30" y="197.90" font-size="8.2" fill="#2a2a2a" textLength="18.50" lengthAdjust="spacingAndGlyphs">Ki-67</text>
<line x1="389.30" y1="299.50" x2="389.30" y2="301.90" stroke="#231f20" stroke-width="0.9" />
<rect x="385.30" y="275.80" width="8.00" height="23.70" fill="#a1a9b8" />
<line x1="389.30" y1="275.80" x2="389.30" y2="269.00" stroke="#2b2b2b" stroke-width="1.0" />
<line x1="387.60" y1="269.00" x2="391.00" y2="269.00" stroke="#2b2b2b" stroke-width="1.0" />
<circle cx="389.50" cy="256.20" r="2.2" fill="#383d4d" />
<circle cx="389.50" cy="264.90" r="2.2" fill="#383d4d" />
<circle cx="389.00" cy="271.20" r="2.2" fill="#383d4d" />
<circle cx="386.00" cy="279.20" r="2.2" fill="#383d4d" />
<circle cx="391.00" cy="278.80" r="2.2" fill="#383d4d" />
<circle cx="392.00" cy="282.70" r="2.2" fill="#383d4d" />
<circle cx="389.00" cy="298.90" r="2.2" fill="#383d4d" />
<line x1="402.50" y1="299.50" x2="402.50" y2="301.90" stroke="#231f20" stroke-width="0.9" />
<rect x="398.50" y="273.50" width="8.00" height="26.00" fill="#fcdd8c" />
<line x1="402.50" y1="273.50" x2="402.50" y2="265.40" stroke="#2b2b2b" stroke-width="1.0" />
<line x1="400.80" y1="265.40" x2="404.20" y2="265.40" stroke="#2b2b2b" stroke-width="1.0" />
<circle cx="403.00" cy="252.70" r="2.2" fill="#eab82a" />
<circle cx="403.00" cy="260.80" r="2.2" fill="#eab82a" />
<circle cx="403.00" cy="274.60" r="2.2" fill="#eab82a" />
<circle cx="400.00" cy="288.50" r="2.2" fill="#eab82a" />
<circle cx="405.00" cy="288.50" r="2.2" fill="#eab82a" />
<line x1="415.20" y1="299.50" x2="415.20" y2="301.90" stroke="#231f20" stroke-width="0.9" />
<rect x="411.20" y="292.00" width="8.00" height="7.50" fill="#8ca7cb" />
<line x1="415.20" y1="292.00" x2="415.20" y2="288.00" stroke="#2b2b2b" stroke-width="1.0" />
<line x1="413.50" y1="288.00" x2="416.90" y2="288.00" stroke="#2b2b2b" stroke-width="1.0" />
<circle cx="415.50" cy="286.20" r="2.2" fill="#174c7c" />
<circle cx="412.50" cy="290.00" r="2.2" fill="#174c7c" />
<circle cx="418.50" cy="290.00" r="2.2" fill="#174c7c" />
<circle cx="413.00" cy="298.20" r="2.2" fill="#174c7c" />
<circle cx="417.00" cy="298.00" r="2.2" fill="#174c7c" />
<line x1="429.00" y1="299.50" x2="429.00" y2="301.90" stroke="#231f20" stroke-width="0.9" />
<rect x="425.00" y="240.50" width="8.00" height="59.00" fill="#e18598" />
<line x1="429.00" y1="240.50" x2="429.00" y2="235.40" stroke="#2b2b2b" stroke-width="1.0" />
<line x1="427.30" y1="235.40" x2="430.70" y2="235.40" stroke="#2b2b2b" stroke-width="1.0" />
<circle cx="426.00" cy="228.50" r="2.2" fill="#b3173f" />
<circle cx="431.50" cy="230.30" r="2.2" fill="#b3173f" />
<circle cx="429.00" cy="237.20" r="2.2" fill="#b3173f" />
<circle cx="426.00" cy="249.90" r="2.2" fill="#b3173f" />
<circle cx="432.00" cy="248.10" r="2.2" fill="#b3173f" />
<line x1="403.10" y1="214.20" x2="428.50" y2="214.20" stroke="#4a4a4a" stroke-width="1.0" />
<text x="415.80" y="215.50" font-size="7.0" text-anchor="middle" fill="#2a2a2a">***</text>
<line x1="416.50" y1="222.20" x2="428.50" y2="222.20" stroke="#4a4a4a" stroke-width="1.0" />
<text x="422.50" y="223.50" font-size="7.0" text-anchor="middle" fill="#2a2a2a">****</text>
<text x="6.70" y="327.90" font-size="11" fill="#000" font-weight="bold" stroke="#000" stroke-width="0.45">F</text>
<line x1="46.80" y1="348.00" x2="46.80" y2="444.60" stroke="#231f20" stroke-width="1.3" />
<line x1="46.15" y1="443.90" x2="108.00" y2="443.90" stroke="#231f20" stroke-width="1.4" />
<line x1="44.40" y1="443.90" x2="46.80" y2="443.90" stroke="#231f20" stroke-width="0.9" />
<text x="40.40" y="446.10" font-size="6.6" text-anchor="end" fill="#333" textLength="3.30" lengthAdjust="spacingAndGlyphs">0</text>
<line x1="44.40" y1="425.16" x2="46.80" y2="425.16" stroke="#231f20" stroke-width="0.9" />
<text x="40.40" y="427.36" font-size="6.6" text-anchor="end" fill="#333" textLength="9.90" lengthAdjust="spacingAndGlyphs">100</text>
<line x1="44.40" y1="406.42" x2="46.80" y2="406.42" stroke="#231f20" stroke-width="0.9" />
<text x="40.40" y="408.62" font-size="6.6" text-anchor="end" fill="#333" textLength="9.90" lengthAdjust="spacingAndGlyphs">200</text>
<line x1="44.40" y1="387.68" x2="46.80" y2="387.68" stroke="#231f20" stroke-width="0.9" />
<text x="40.40" y="389.88" font-size="6.6" text-anchor="end" fill="#333" textLength="9.90" lengthAdjust="spacingAndGlyphs">300</text>
<line x1="44.40" y1="368.94" x2="46.80" y2="368.94" stroke="#231f20" stroke-width="0.9" />
<text x="40.40" y="371.14" font-size="6.6" text-anchor="end" fill="#333" textLength="9.90" lengthAdjust="spacingAndGlyphs">400</text>
<line x1="44.40" y1="350.20" x2="46.80" y2="350.20" stroke="#231f20" stroke-width="0.9" />
<text x="40.40" y="352.40" font-size="6.6" text-anchor="end" fill="#333" textLength="9.90" lengthAdjust="spacingAndGlyphs">500</text>
<text x="24.70" y="427.50" font-size="8.2" fill="#2e2e2e" textLength="59.50" lengthAdjust="spacingAndGlyphs" transform="rotate(-90 24.70 427.50)">Weight [mg] + SEM</text>
<text x="65.00" y="337.50" font-size="8.2" fill="#2a2a2a" textLength="25.80" lengthAdjust="spacingAndGlyphs">Spleen</text>
<line x1="55.80" y1="443.90" x2="55.80" y2="446.30" stroke="#231f20" stroke-width="0.9" />
<rect x="51.80" y="412.50" width="8.00" height="31.40" fill="#a1a9b8" />
<circle cx="53.00" cy="394.70" r="2.2" fill="#383d4d" />
<circle cx="58.50" cy="397.10" r="2.2" fill="#383d4d" />
<circle cx="56.00" cy="406.80" r="2.2" fill="#383d4d" />
<circle cx="55.50" cy="413.20" r="2.2" fill="#383d4d" />
<circle cx="52.50" cy="420.80" r="2.2" fill="#383d4d" />
<circle cx="58.50" cy="421.60" r="2.2" fill="#383d4d" />
<circle cx="56.00" cy="429.70" r="2.2" fill="#383d4d" />
<line x1="70.50" y1="443.90" x2="70.50" y2="446.30" stroke="#231f20" stroke-width="0.9" />
<rect x="66.50" y="400.70" width="8.00" height="43.20" fill="#fcdd8c" />
<line x1="70.50" y1="400.70" x2="70.50" y2="387.90" stroke="#2b2b2b" stroke-width="1.0" />
<line x1="68.80" y1="387.90" x2="72.20" y2="387.90" stroke="#2b2b2b" stroke-width="1.0" />
<circle cx="70.00" cy="363.70" r="2.2" fill="#eab82a" />
<circle cx="70.00" cy="375.80" r="2.2" fill="#eab82a" />
<circle cx="67.50" cy="423.50" r="2.2" fill="#eab82a" />
<circle cx="72.00" cy="420.20" r="2.2" fill="#eab82a" />
<circle cx="70.00" cy="421.30" r="2.2" fill="#eab82a" />
<line x1="84.90" y1="443.90" x2="84.90" y2="446.30" stroke="#231f20" stroke-width="0.9" />
<rect x="80.90" y="431.40" width="8.00" height="12.50" fill="#8ca7cb" />
<line x1="84.90" y1="431.40" x2="84.90" y2="425.70" stroke="#2b2b2b" stroke-width="1.0" />
<line x1="83.20" y1="425.70" x2="86.60" y2="425.70" stroke="#2b2b2b" stroke-width="1.0" />
<circle cx="84.50" cy="418.10" r="2.2" fill="#174c7c" />
<circle cx="84.50" cy="423.50" r="2.2" fill="#174c7c" />
<circle cx="82.00" cy="438.80" r="2.2" fill="#174c7c" />
<circle cx="86.00" cy="437.50" r="2.2" fill="#174c7c" />
<circle cx="84.00" cy="438.30" r="2.2" fill="#174c7c" />
<line x1="99.20" y1="443.90" x2="99.20" y2="446.30" stroke="#231f20" stroke-width="0.9" />
<rect x="95.20" y="430.20" width="8.00" height="13.70" fill="#e18598" />
<line x1="99.20" y1="430.20" x2="99.20" y2="422.70" stroke="#2b2b2b" stroke-width="1.0" />
<line x1="97.50" y1="422.70" x2="100.90" y2="422.70" stroke="#2b2b2b" stroke-width="1.0" />
<circle cx="99.40" cy="404.60" r="2.2" fill="#b3173f" />
<circle cx="96.50" cy="436.10" r="2.2" fill="#b3173f" />
<circle cx="100.00" cy="436.40" r="2.2" fill="#b3173f" />
<circle cx="102.00" cy="435.60" r="2.2" fill="#b3173f" />
<line x1="69.50" y1="348.00" x2="98.90" y2="348.00" stroke="#4a4a4a" stroke-width="1.0" />
<text x="84.60" y="349.30" font-size="7.0" text-anchor="middle" fill="#2a2a2a">*</text>
<line x1="69.50" y1="355.70" x2="83.20" y2="355.70" stroke="#4a4a4a" stroke-width="1.0" />
<text x="76.60" y="357.00" font-size="7.0" text-anchor="middle" fill="#2a2a2a">*</text>
<line x1="227.70" y1="355.10" x2="227.70" y2="444.40" stroke="#231f20" stroke-width="1.3" />
<line x1="227.05" y1="443.70" x2="285.50" y2="443.70" stroke="#231f20" stroke-width="1.4" />
<line x1="225.30" y1="443.70" x2="227.70" y2="443.70" stroke="#231f20" stroke-width="0.9" />
<text x="221.70" y="445.90" font-size="6.6" text-anchor="end" fill="#333" textLength="3.30" lengthAdjust="spacingAndGlyphs">0</text>
<line x1="225.30" y1="426.42" x2="227.70" y2="426.42" stroke="#231f20" stroke-width="0.9" />
<text x="221.70" y="428.62" font-size="6.6" text-anchor="end" fill="#333" textLength="6.60" lengthAdjust="spacingAndGlyphs">20</text>
<line x1="225.30" y1="409.14" x2="227.70" y2="409.14" stroke="#231f20" stroke-width="0.9" />
<text x="221.70" y="411.34" font-size="6.6" text-anchor="end" fill="#333" textLength="6.60" lengthAdjust="spacingAndGlyphs">40</text>
<line x1="225.30" y1="391.86" x2="227.70" y2="391.86" stroke="#231f20" stroke-width="0.9" />
<text x="221.70" y="394.06" font-size="6.6" text-anchor="end" fill="#333" textLength="6.60" lengthAdjust="spacingAndGlyphs">60</text>
<line x1="225.30" y1="374.58" x2="227.70" y2="374.58" stroke="#231f20" stroke-width="0.9" />
<text x="221.70" y="376.78" font-size="6.6" text-anchor="end" fill="#333" textLength="6.60" lengthAdjust="spacingAndGlyphs">80</text>
<line x1="225.30" y1="357.30" x2="227.70" y2="357.30" stroke="#231f20" stroke-width="0.9" />
<text x="221.70" y="359.50" font-size="6.6" text-anchor="end" fill="#333" textLength="9.90" lengthAdjust="spacingAndGlyphs">100</text>
<text x="205.70" y="441.50" font-size="8.2" fill="#2e2e2e" textLength="80.70" lengthAdjust="spacingAndGlyphs" transform="rotate(-90 205.70 441.50)">GZMB<tspan font-size="0.55em" dy="-3px">+</tspan><tspan dy="3px"> [% of CD8] + SEM</tspan></text>
<text x="233.00" y="337.40" font-size="8.2" fill="#2a2a2a" textLength="45.80" lengthAdjust="spacingAndGlyphs">Granzyme-B</text>
<line x1="235.80" y1="443.70" x2="235.80" y2="446.10" stroke="#231f20" stroke-width="0.9" />
<rect x="231.80" y="420.00" width="8.00" height="23.70" fill="#a1a9b8" />
<line x1="235.80" y1="420.00" x2="235.80" y2="416.00" stroke="#2b2b2b" stroke-width="1.0" />
<line x1="234.10" y1="416.00" x2="237.50" y2="416.00" stroke="#2b2b2b" stroke-width="1.0" />
<circle cx="236.00" cy="401.20" r="2.2" fill="#383d4d" />
<circle cx="236.00" cy="408.70" r="2.2" fill="#383d4d" />
<circle cx="235.00" cy="415.20" r="2.2" fill="#383d4d" />
<circle cx="232.00" cy="420.50" r="2.2" fill="#383d4d" />
<circle cx="238.00" cy="420.50" r="2.2" fill="#383d4d" />
<circle cx="234.00" cy="425.90" r="2.2" fill="#383d4d" />
<circle cx="237.00" cy="432.70" r="2.2" fill="#383d4d" />
<line x1="249.30" y1="443.70" x2="249.30" y2="446.10" stroke="#231f20" stroke-width="0.9" />
<rect x="245.30" y="416.00" width="8.00" height="27.70" fill="#fcdd8c" />
<line x1="249.30" y1="416.00" x2="249.30" y2="407.90" stroke="#2b2b2b" stroke-width="1.0" />
<line x1="247.60" y1="407.90" x2="251.00" y2="407.90" stroke="#2b2b2b" stroke-width="1.0" />
<circle cx="249.50" cy="385.50" r="2.2" fill="#eab82a" />
<circle cx="250.50" cy="416.80" r="2.2" fill="#eab82a" />
<circle cx="247.00" cy="422.20" r="2.2" fill="#eab82a" />
<circle cx="253.00" cy="422.70" r="2.2" fill="#eab82a" />
<circle cx="251.00" cy="429.40" r="2.2" fill="#eab82a" />
<line x1="262.20" y1="443.70" x2="262.20" y2="446.10" stroke="#231f20" stroke-width="0.9" />
<rect x="258.20" y="432.90" width="8.00" height="10.80" fill="#8ca7cb" />
<line x1="262.20" y1="432.90" x2="262.20" y2="428.00" stroke="#2b2b2b" stroke-width="1.0" />
<line x1="260.50" y1="428.00" x2="263.90" y2="428.00" stroke="#2b2b2b" stroke-width="1.0" />
<circle cx="262.00" cy="422.70" r="2.2" fill="#174c7c" />
<circle cx="262.00" cy="426.70" r="2.2" fill="#174c7c" />
<circle cx="258.50" cy="433.50" r="2.2" fill="#174c7c" />
<circle cx="266.00" cy="433.50" r="2.2" fill="#174c7c" />
<circle cx="262.00" cy="443.20" r="2.2" fill="#174c7c" />
<line x1="276.30" y1="443.70" x2="276.30" y2="446.10" stroke="#231f20" stroke-width="0.9" />
<rect x="272.30" y="397.90" width="8.00" height="45.80" fill="#e18598" />
<line x1="276.30" y1="397.90" x2="276.30" y2="391.20" stroke="#2b2b2b" stroke-width="1.0" />
<line x1="274.60" y1="391.20" x2="278.00" y2="391.20" stroke="#2b2b2b" stroke-width="1.0" />
<circle cx="275.00" cy="380.40" r="2.2" fill="#b3173f" />
<circle cx="271.50" cy="388.20" r="2.2" fill="#b3173f" />
<circle cx="279.00" cy="386.40" r="2.2" fill="#b3173f" />
<circle cx="279.00" cy="412.50" r="2.2" fill="#b3173f" />
<circle cx="273.00" cy="416.80" r="2.2" fill="#b3173f" />
<line x1="249.50" y1="362.90" x2="275.60" y2="362.90" stroke="#4a4a4a" stroke-width="1.0" />
<text x="262.70" y="364.20" font-size="7.0" text-anchor="middle" fill="#2a2a2a">*</text>
<line x1="262.90" y1="370.20" x2="275.60" y2="370.20" stroke="#4a4a4a" stroke-width="1.0" />
<text x="269.20" y="371.50" font-size="7.0" text-anchor="middle" fill="#2a2a2a">***</text>
<line x1="329.50" y1="355.10" x2="329.50" y2="444.40" stroke="#231f20" stroke-width="1.3" />
<line x1="328.85" y1="443.70" x2="385.60" y2="443.70" stroke="#231f20" stroke-width="1.4" />
<line x1="327.10" y1="443.70" x2="329.50" y2="443.70" stroke="#231f20" stroke-width="0.9" />
<text x="322.80" y="445.90" font-size="6.6" text-anchor="end" fill="#333" textLength="3.30" lengthAdjust="spacingAndGlyphs">0</text>
<line x1="327.10" y1="426.42" x2="329.50" y2="426.42" stroke="#231f20" stroke-width="0.9" />
<text x="322.80" y="428.62" font-size="6.6" text-anchor="end" fill="#333" textLength="6.60" lengthAdjust="spacingAndGlyphs">20</text>
<line x1="327.10" y1="409.14" x2="329.50" y2="409.14" stroke="#231f20" stroke-width="0.9" />
<text x="322.80" y="411.34" font-size="6.6" text-anchor="end" fill="#333" textLength="6.60" lengthAdjust="spacingAndGlyphs">40</text>
<line x1="327.10" y1="391.86" x2="329.50" y2="391.86" stroke="#231f20" stroke-width="0.9" />
<text x="322.80" y="394.06" font-size="6.6" text-anchor="end" fill="#333" textLength="6.60" lengthAdjust="spacingAndGlyphs">60</text>
<line x1="327.10" y1="374.58" x2="329.50" y2="374.58" stroke="#231f20" stroke-width="0.9" />
<text x="322.80" y="376.78" font-size="6.6" text-anchor="end" fill="#333" textLength="6.60" lengthAdjust="spacingAndGlyphs">80</text>
<line x1="327.10" y1="357.30" x2="329.50" y2="357.30" stroke="#231f20" stroke-width="0.9" />
<text x="322.80" y="359.50" font-size="6.6" text-anchor="end" fill="#333" textLength="9.90" lengthAdjust="spacingAndGlyphs">100</text>
<text x="309.00" y="443.70" font-size="8.2" fill="#2e2e2e" textLength="88.90" lengthAdjust="spacingAndGlyphs" transform="rotate(-90 309.00 443.70)">PD1<tspan font-size="0.55em" dy="-3px">+</tspan><tspan dy="3px">Tim-3<tspan font-size="0.55em" dy="-3px">+</tspan><tspan dy="3px"> [% of CD8] + SEM</tspan></tspan></text>
<text x="335.80" y="337.50" font-size="8.2" fill="#2a2a2a" textLength="43.10" lengthAdjust="spacingAndGlyphs">PD1<tspan font-size="0.55em" dy="-3px">+</tspan><tspan dy="3px">/Tim3<tspan font-size="0.55em" dy="-3px">+</tspan><tspan dy="3px"></tspan></tspan></text>
<line x1="338.20" y1="443.70" x2="338.20" y2="446.10" stroke="#231f20" stroke-width="0.9" />
<rect x="334.20" y="427.50" width="8.00" height="16.20" fill="#a1a9b8" />
<line x1="338.20" y1="427.50" x2="338.20" y2="421.00" stroke="#2b2b2b" stroke-width="1.0" />
<line x1="336.50" y1="421.00" x2="339.90" y2="421.00" stroke="#2b2b2b" stroke-width="1.0" />
<circle cx="335.50" cy="411.10" r="2.2" fill="#383d4d" />
<circle cx="341.50" cy="411.10" r="2.2" fill="#383d4d" />
<circle cx="338.00" cy="418.70" r="2.2" fill="#383d4d" />
<circle cx="338.50" cy="422.70" r="2.2" fill="#383d4d" />
<circle cx="336.00" cy="432.10" r="2.2" fill="#383d4d" />
<circle cx="339.00" cy="438.30" r="2.2" fill="#383d4d" />
<circle cx="335.00" cy="442.90" r="2.2" fill="#383d4d" />
<circle cx="340.00" cy="443.00" r="2.2" fill="#383d4d" />
<line x1="351.30" y1="443.70" x2="351.30" y2="446.10" stroke="#231f20" stroke-width="0.9" />
<rect x="347.30" y="389.00" width="8.00" height="54.70" fill="#fcdd8c" />
<circle cx="348.00" cy="382.90" r="2.2" fill="#eab82a" />
<circle cx="352.00" cy="384.20" r="2.2" fill="#eab82a" />
<circle cx="355.00" cy="387.20" r="2.2" fill="#eab82a" />
<circle cx="350.00" cy="390.90" r="2.2" fill="#eab82a" />
<circle cx="353.00" cy="391.70" r="2.2" fill="#eab82a" />
<line x1="364.70" y1="443.70" x2="364.70" y2="446.10" stroke="#231f20" stroke-width="0.9" />
<rect x="360.70" y="425.40" width="8.00" height="18.30" fill="#8ca7cb" />
<line x1="364.70" y1="425.40" x2="364.70" y2="416.80" stroke="#2b2b2b" stroke-width="1.0" />
<line x1="363.00" y1="416.80" x2="366.40" y2="416.80" stroke="#2b2b2b" stroke-width="1.0" />
<circle cx="364.50" cy="393.60" r="2.2" fill="#174c7c" />
<circle cx="364.00" cy="424.90" r="2.2" fill="#174c7c" />
<circle cx="361.50" cy="430.80" r="2.2" fill="#174c7c" />
<circle cx="366.00" cy="430.80" r="2.2" fill="#174c7c" />
<circle cx="364.00" cy="438.30" r="2.2" fill="#174c7c" />
<line x1="378.20" y1="443.70" x2="378.20" y2="446.10" stroke="#231f20" stroke-width="0.9" />
<rect x="374.20" y="401.20" width="8.00" height="42.50" fill="#e18598" />
<circle cx="378.50" cy="395.00" r="2.2" fill="#b3173f" />
<circle cx="375.00" cy="399.80" r="2.2" fill="#b3173f" />
<circle cx="381.00" cy="400.60" r="2.2" fill="#b3173f" />
<circle cx="377.50" cy="406.50" r="2.2" fill="#b3173f" />
<circle cx="380.50" cy="401.70" r="2.2" fill="#b3173f" />
<line x1="338.50" y1="367.50" x2="377.50" y2="367.50" stroke="#4a4a4a" stroke-width="1.0" />
<text x="358.00" y="368.80" font-size="7.0" text-anchor="middle" fill="#2a2a2a">**</text>
<line x1="338.50" y1="376.90" x2="351.40" y2="376.90" stroke="#4a4a4a" stroke-width="1.0" />
<text x="344.95" y="378.20" font-size="7.0" text-anchor="middle" fill="#2a2a2a">****</text>
<line x1="364.90" y1="387.20" x2="377.50" y2="387.20" stroke="#4a4a4a" stroke-width="1.0" />
<text x="371.20" y="388.50" font-size="7.0" text-anchor="middle" fill="#2a2a2a">*</text>
<text x="7.00" y="473.00" font-size="11" fill="#000" font-weight="bold" stroke="#000" stroke-width="0.45">G</text>
<line x1="46.30" y1="491.10" x2="46.30" y2="580.70" stroke="#231f20" stroke-width="1.3" />
<line x1="45.65" y1="580.00" x2="103.80" y2="580.00" stroke="#231f20" stroke-width="1.4" />
<line x1="43.90" y1="580.00" x2="46.30" y2="580.00" stroke="#231f20" stroke-width="0.9" />
<text x="40.50" y="582.20" font-size="6.6" text-anchor="end" fill="#333" textLength="3.30" lengthAdjust="spacingAndGlyphs">0</text>
<line x1="43.90" y1="551.10" x2="46.30" y2="551.10" stroke="#231f20" stroke-width="0.9" />
<text x="40.50" y="553.30" font-size="6.6" text-anchor="end" fill="#333" textLength="16.50" lengthAdjust="spacingAndGlyphs">50000</text>
<line x1="43.90" y1="522.20" x2="46.30" y2="522.20" stroke="#231f20" stroke-width="0.9" />
<text x="40.50" y="524.40" font-size="6.6" text-anchor="end" fill="#333" textLength="19.80" lengthAdjust="spacingAndGlyphs">100000</text>
<line x1="43.90" y1="493.30" x2="46.30" y2="493.30" stroke="#231f20" stroke-width="0.9" />
<text x="40.50" y="495.50" font-size="6.6" text-anchor="end" fill="#333" textLength="19.80" lengthAdjust="spacingAndGlyphs">150000</text>
<text x="14.10" y="581.30" font-size="8.2" fill="#2e2e2e" textLength="91.30" lengthAdjust="spacingAndGlyphs" transform="rotate(-90 14.10 581.30)">CD4<tspan font-size="0.55em" dy="-3px">+</tspan><tspan dy="3px"> T cells [count/mg] + SEM</tspan></text>
<text x="52.70" y="482.30" font-size="8.2" fill="#2a2a2a" textLength="45.40" lengthAdjust="spacingAndGlyphs">CD4<tspan font-size="0.55em" dy="-3px">+</tspan><tspan dy="3px"> T cells</tspan></text>
<line x1="55.30" y1="580.00" x2="55.30" y2="582.40" stroke="#231f20" stroke-width="0.9" />
<rect x="51.30" y="562.10" width="8.00" height="17.90" fill="#a1a9b8" />
<line x1="55.30" y1="562.10" x2="55.30" y2="554.40" stroke="#2b2b2b" stroke-width="1.0" />
<line x1="53.60" y1="554.40" x2="57.00" y2="554.40" stroke="#2b2b2b" stroke-width="1.0" />
<circle cx="55.00" cy="517.20" r="2.2" fill="#383d4d" />
<circle cx="55.20" cy="554.40" r="2.2" fill="#383d4d" />
<circle cx="53.50" cy="563.10" r="2.2" fill="#383d4d" />
<circle cx="57.00" cy="565.80" r="2.2" fill="#383d4d" />
<circle cx="54.00" cy="575.30" r="2.2" fill="#383d4d" />
<circle cx="57.50" cy="576.00" r="2.2" fill="#383d4d" />
<circle cx="53.00" cy="578.20" r="2.2" fill="#383d4d" />
<line x1="68.10" y1="580.00" x2="68.10" y2="582.40" stroke="#231f20" stroke-width="0.9" />
<rect x="64.10" y="570.90" width="8.00" height="9.10" fill="#fcdd8c" />
<line x1="68.10" y1="570.90" x2="68.10" y2="569.50" stroke="#2b2b2b" stroke-width="1.0" />
<line x1="66.40" y1="569.50" x2="69.80" y2="569.50" stroke="#2b2b2b" stroke-width="1.0" />
<circle cx="70.50" cy="567.20" r="2.2" fill="#eab82a" />
<circle cx="65.50" cy="570.10" r="2.2" fill="#eab82a" />
<circle cx="68.50" cy="571.60" r="2.2" fill="#eab82a" />
<circle cx="71.00" cy="573.10" r="2.2" fill="#eab82a" />
<circle cx="65.00" cy="575.30" r="2.2" fill="#eab82a" />
<circle cx="70.00" cy="576.00" r="2.2" fill="#eab82a" />
<line x1="82.10" y1="580.00" x2="82.10" y2="582.40" stroke="#231f20" stroke-width="0.9" />
<rect x="78.10" y="561.10" width="8.00" height="18.90" fill="#8ca7cb" />
<line x1="82.10" y1="561.10" x2="82.10" y2="554.40" stroke="#2b2b2b" stroke-width="1.0" />
<line x1="80.40" y1="554.40" x2="83.80" y2="554.40" stroke="#2b2b2b" stroke-width="1.0" />
<circle cx="81.90" cy="541.90" r="2.2" fill="#174c7c" />
<circle cx="81.90" cy="550.70" r="2.2" fill="#174c7c" />
<circle cx="79.20" cy="567.20" r="2.2" fill="#174c7c" />
<circle cx="84.00" cy="570.10" r="2.2" fill="#174c7c" />
<circle cx="79.20" cy="572.60" r="2.2" fill="#174c7c" />
<line x1="95.30" y1="580.00" x2="95.30" y2="582.40" stroke="#231f20" stroke-width="0.9" />
<rect x="91.30" y="568.00" width="8.00" height="12.00" fill="#e18598" />
<line x1="95.30" y1="568.00" x2="95.30" y2="567.00" stroke="#2b2b2b" stroke-width="1.0" />
<line x1="93.60" y1="567.00" x2="97.00" y2="567.00" stroke="#2b2b2b" stroke-width="1.0" />
<circle cx="92.50" cy="563.10" r="2.2" fill="#b3173f" />
<circle cx="97.50" cy="566.80" r="2.2" fill="#b3173f" />
<circle cx="92.50" cy="571.20" r="2.2" fill="#b3173f" />
<circle cx="97.50" cy="572.30" r="2.2" fill="#b3173f" />
<circle cx="95.00" cy="576.70" r="2.2" fill="#b3173f" />
<line x1="152.20" y1="491.30" x2="152.20" y2="580.70" stroke="#231f20" stroke-width="1.3" />
<line x1="151.55" y1="580.00" x2="209.20" y2="580.00" stroke="#231f20" stroke-width="1.4" />
<line x1="149.80" y1="580.00" x2="152.20" y2="580.00" stroke="#231f20" stroke-width="0.9" />
<text x="146.90" y="582.20" font-size="6.6" text-anchor="end" fill="#333" textLength="3.30" lengthAdjust="spacingAndGlyphs">0</text>
<line x1="149.80" y1="562.70" x2="152.20" y2="562.70" stroke="#231f20" stroke-width="0.9" />
<text x="146.90" y="564.90" font-size="6.6" text-anchor="end" fill="#333" textLength="16.50" lengthAdjust="spacingAndGlyphs">10000</text>
<line x1="149.80" y1="545.40" x2="152.20" y2="545.40" stroke="#231f20" stroke-width="0.9" />
<text x="146.90" y="547.60" font-size="6.6" text-anchor="end" fill="#333" textLength="16.50" lengthAdjust="spacingAndGlyphs">20000</text>
<line x1="149.80" y1="528.10" x2="152.20" y2="528.10" stroke="#231f20" stroke-width="0.9" />
<text x="146.90" y="530.30" font-size="6.6" text-anchor="end" fill="#333" textLength="16.50" lengthAdjust="spacingAndGlyphs">30000</text>
<line x1="149.80" y1="510.80" x2="152.20" y2="510.80" stroke="#231f20" stroke-width="0.9" />
<text x="146.90" y="513.00" font-size="6.6" text-anchor="end" fill="#333" textLength="16.50" lengthAdjust="spacingAndGlyphs">40000</text>
<line x1="149.80" y1="493.50" x2="152.20" y2="493.50" stroke="#231f20" stroke-width="0.9" />
<text x="146.90" y="495.70" font-size="6.6" text-anchor="end" fill="#333" textLength="16.50" lengthAdjust="spacingAndGlyphs">50000</text>
<text x="122.50" y="581.20" font-size="8.2" fill="#2e2e2e" textLength="91.20" lengthAdjust="spacingAndGlyphs" transform="rotate(-90 122.50 581.20)">CD8<tspan font-size="0.55em" dy="-3px">+</tspan><tspan dy="3px"> T cells [count/mg] + SEM</tspan></text>
<text x="158.00" y="482.30" font-size="8.2" fill="#2a2a2a" textLength="46.20" lengthAdjust="spacingAndGlyphs">CD8<tspan font-size="0.55em" dy="-3px">+</tspan><tspan dy="3px"> T cells</tspan></text>
<line x1="160.90" y1="580.00" x2="160.90" y2="582.40" stroke="#231f20" stroke-width="0.9" />
<rect x="156.90" y="559.20" width="8.00" height="20.80" fill="#a1a9b8" />
<line x1="160.90" y1="559.20" x2="160.90" y2="552.30" stroke="#2b2b2b" stroke-width="1.0" />
<line x1="159.20" y1="552.30" x2="162.60" y2="552.30" stroke="#2b2b2b" stroke-width="1.0" />
<circle cx="161.00" cy="534.30" r="2.2" fill="#383d4d" />
<circle cx="161.00" cy="540.80" r="2.2" fill="#383d4d" />
<circle cx="161.00" cy="555.80" r="2.2" fill="#383d4d" />
<circle cx="160.00" cy="561.50" r="2.2" fill="#383d4d" />
<circle cx="157.50" cy="568.50" r="2.2" fill="#383d4d" />
<circle cx="164.00" cy="572.00" r="2.2" fill="#383d4d" />
<circle cx="160.00" cy="577.20" r="2.2" fill="#383d4d" />
<line x1="174.00" y1="580.00" x2="174.00" y2="582.40" stroke="#231f20" stroke-width="0.9" />
<rect x="170.00" y="561.50" width="8.00" height="18.50" fill="#fcdd8c" />
<line x1="174.00" y1="561.50" x2="174.00" y2="558.00" stroke="#2b2b2b" stroke-width="1.0" />
<line x1="172.30" y1="558.00" x2="175.70" y2="558.00" stroke="#2b2b2b" stroke-width="1.0" />
<circle cx="171.00" cy="556.90" r="2.2" fill="#eab82a" />
<circle cx="176.00" cy="558.50" r="2.2" fill="#eab82a" />
<circle cx="178.00" cy="559.70" r="2.2" fill="#eab82a" />
<circle cx="174.00" cy="562.70" r="2.2" fill="#eab82a" />
<circle cx="176.00" cy="572.60" r="2.2" fill="#eab82a" />
<line x1="187.30" y1="580.00" x2="187.30" y2="582.40" stroke="#231f20" stroke-width="0.9" />
<rect x="183.30" y="553.00" width="8.00" height="27.00" fill="#8ca7cb" />
<line x1="187.30" y1="553.00" x2="187.30" y2="545.40" stroke="#2b2b2b" stroke-width="1.0" />
<line x1="185.60" y1="545.40" x2="189.00" y2="545.40" stroke="#2b2b2b" stroke-width="1.0" />
<circle cx="187.50" cy="531.50" r="2.2" fill="#174c7c" />
<circle cx="187.50" cy="545.00" r="2.2" fill="#174c7c" />
<circle cx="187.00" cy="555.80" r="2.2" fill="#174c7c" />
<circle cx="187.00" cy="561.10" r="2.2" fill="#174c7c" />
<circle cx="187.00" cy="567.80" r="2.2" fill="#174c7c" />
<line x1="200.80" y1="580.00" x2="200.80" y2="582.40" stroke="#231f20" stroke-width="0.9" />
<rect x="196.80" y="551.90" width="8.00" height="28.10" fill="#e18598" />
<line x1="200.80" y1="551.90" x2="200.80" y2="539.60" stroke="#2b2b2b" stroke-width="1.0" />
<line x1="199.10" y1="539.60" x2="202.50" y2="539.60" stroke="#2b2b2b" stroke-width="1.0" />
<circle cx="200.80" cy="506.80" r="2.2" fill="#b3173f" />
<circle cx="200.50" cy="551.90" r="2.2" fill="#b3173f" />
<circle cx="200.50" cy="559.20" r="2.2" fill="#b3173f" />
<circle cx="200.50" cy="566.20" r="2.2" fill="#b3173f" />
<circle cx="200.00" cy="574.70" r="2.2" fill="#b3173f" />
<line x1="251.10" y1="487.40" x2="251.10" y2="580.90" stroke="#231f20" stroke-width="1.3" />
<line x1="250.45" y1="580.20" x2="311.40" y2="580.20" stroke="#231f20" stroke-width="1.4" />
<line x1="248.70" y1="580.20" x2="251.10" y2="580.20" stroke="#231f20" stroke-width="0.9" />
<text x="245.80" y="582.40" font-size="6.6" text-anchor="end" fill="#333" textLength="3.30" lengthAdjust="spacingAndGlyphs">0</text>
<line x1="248.70" y1="562.08" x2="251.10" y2="562.08" stroke="#231f20" stroke-width="0.9" />
<text x="245.80" y="564.28" font-size="6.6" text-anchor="end" fill="#333" textLength="6.60" lengthAdjust="spacingAndGlyphs">20</text>
<line x1="248.70" y1="543.96" x2="251.10" y2="543.96" stroke="#231f20" stroke-width="0.9" />
<text x="245.80" y="546.16" font-size="6.6" text-anchor="end" fill="#333" textLength="6.60" lengthAdjust="spacingAndGlyphs">40</text>
<line x1="248.70" y1="525.84" x2="251.10" y2="525.84" stroke="#231f20" stroke-width="0.9" />
<text x="245.80" y="528.04" font-size="6.6" text-anchor="end" fill="#333" textLength="6.60" lengthAdjust="spacingAndGlyphs">60</text>
<line x1="248.70" y1="507.72" x2="251.10" y2="507.72" stroke="#231f20" stroke-width="0.9" />
<text x="245.80" y="509.92" font-size="6.6" text-anchor="end" fill="#333" textLength="6.60" lengthAdjust="spacingAndGlyphs">80</text>
<line x1="248.70" y1="489.60" x2="251.10" y2="489.60" stroke="#231f20" stroke-width="0.9" />
<text x="245.80" y="491.80" font-size="6.6" text-anchor="end" fill="#333" textLength="9.90" lengthAdjust="spacingAndGlyphs">100</text>
<text x="228.70" y="575.30" font-size="8.2" fill="#2e2e2e" textLength="73.00" lengthAdjust="spacingAndGlyphs" transform="rotate(-90 228.70 575.30)">Ki-67<tspan font-size="0.55em" dy="-3px">+</tspan><tspan dy="3px"> [% of CD8] + SEM</tspan></text>
<text x="271.80" y="482.30" font-size="8.2" fill="#2a2a2a" textLength="18.00" lengthAdjust="spacingAndGlyphs">Ki-67</text>
<line x1="260.10" y1="580.20" x2="260.10" y2="582.60" stroke="#231f20" stroke-width="0.9" />
<rect x="256.10" y="555.70" width="8.00" height="24.50" fill="#a1a9b8" />
<line x1="260.10" y1="555.70" x2="260.10" y2="551.20" stroke="#2b2b2b" stroke-width="1.0" />
<line x1="258.40" y1="551.20" x2="261.80" y2="551.20" stroke="#2b2b2b" stroke-width="1.0" />
<circle cx="260.10" cy="538.40" r="2.2" fill="#383d4d" />
<circle cx="257.40" cy="546.50" r="2.2" fill="#383d4d" />
<circle cx="262.80" cy="548.70" r="2.2" fill="#383d4d" />
<circle cx="260.10" cy="554.70" r="2.2" fill="#383d4d" />
<circle cx="257.40" cy="562.00" r="2.2" fill="#383d4d" />
<circle cx="262.80" cy="566.00" r="2.2" fill="#383d4d" />
<circle cx="257.40" cy="568.50" r="2.2" fill="#383d4d" />
<line x1="274.00" y1="580.20" x2="274.00" y2="582.60" stroke="#231f20" stroke-width="0.9" />
<rect x="270.00" y="551.20" width="8.00" height="29.00" fill="#fcdd8c" />
<line x1="274.00" y1="551.20" x2="274.00" y2="550.30" stroke="#2b2b2b" stroke-width="1.0" />
<line x1="272.30" y1="550.30" x2="275.70" y2="550.30" stroke="#2b2b2b" stroke-width="1.0" />
<circle cx="273.60" cy="544.50" r="2.2" fill="#eab82a" />
<circle cx="271.00" cy="551.60" r="2.2" fill="#eab82a" />
<circle cx="274.00" cy="553.60" r="2.2" fill="#eab82a" />
<circle cx="276.50" cy="555.30" r="2.2" fill="#eab82a" />
<circle cx="271.50" cy="555.30" r="2.2" fill="#eab82a" />
<line x1="287.90" y1="580.20" x2="287.90" y2="582.60" stroke="#231f20" stroke-width="0.9" />
<rect x="283.90" y="566.00" width="8.00" height="14.20" fill="#8ca7cb" />
<line x1="287.90" y1="566.00" x2="287.90" y2="562.00" stroke="#2b2b2b" stroke-width="1.0" />
<line x1="286.20" y1="562.00" x2="289.60" y2="562.00" stroke="#2b2b2b" stroke-width="1.0" />
<circle cx="285.20" cy="554.70" r="2.2" fill="#174c7c" />
<circle cx="290.40" cy="558.60" r="2.2" fill="#174c7c" />
<circle cx="287.50" cy="567.40" r="2.2" fill="#174c7c" />
<circle cx="285.00" cy="574.50" r="2.2" fill="#174c7c" />
<circle cx="290.40" cy="571.80" r="2.2" fill="#174c7c" />
<line x1="302.00" y1="580.20" x2="302.00" y2="582.60" stroke="#231f20" stroke-width="0.9" />
<rect x="298.00" y="558.80" width="8.00" height="21.40" fill="#e18598" />
<line x1="302.00" y1="558.80" x2="302.00" y2="551.00" stroke="#2b2b2b" stroke-width="1.0" />
<line x1="300.30" y1="551.00" x2="303.70" y2="551.00" stroke="#2b2b2b" stroke-width="1.0" />
<circle cx="301.70" cy="538.20" r="2.2" fill="#b3173f" />
<circle cx="301.70" cy="550.70" r="2.2" fill="#b3173f" />
<circle cx="301.70" cy="560.40" r="2.2" fill="#b3173f" />
<circle cx="299.00" cy="570.50" r="2.2" fill="#b3173f" />
<circle cx="304.40" cy="569.80" r="2.2" fill="#b3173f" />
<line x1="351.90" y1="487.40" x2="351.90" y2="580.90" stroke="#231f20" stroke-width="1.3" />
<line x1="351.25" y1="580.20" x2="413.70" y2="580.20" stroke="#231f20" stroke-width="1.4" />
<line x1="349.50" y1="580.20" x2="351.90" y2="580.20" stroke="#231f20" stroke-width="0.9" />
<text x="347.00" y="582.40" font-size="6.6" text-anchor="end" fill="#333" textLength="3.30" lengthAdjust="spacingAndGlyphs">0</text>
<line x1="349.50" y1="562.08" x2="351.90" y2="562.08" stroke="#231f20" stroke-width="0.9" />
<text x="347.00" y="564.28" font-size="6.6" text-anchor="end" fill="#333" textLength="6.60" lengthAdjust="spacingAndGlyphs">20</text>
<line x1="349.50" y1="543.96" x2="351.90" y2="543.96" stroke="#231f20" stroke-width="0.9" />
<text x="347.00" y="546.16" font-size="6.6" text-anchor="end" fill="#333" textLength="6.60" lengthAdjust="spacingAndGlyphs">40</text>
<line x1="349.50" y1="525.84" x2="351.90" y2="525.84" stroke="#231f20" stroke-width="0.9" />
<text x="347.00" y="528.04" font-size="6.6" text-anchor="end" fill="#333" textLength="6.60" lengthAdjust="spacingAndGlyphs">60</text>
<line x1="349.50" y1="507.72" x2="351.90" y2="507.72" stroke="#231f20" stroke-width="0.9" />
<text x="347.00" y="509.92" font-size="6.6" text-anchor="end" fill="#333" textLength="6.60" lengthAdjust="spacingAndGlyphs">80</text>
<line x1="349.50" y1="489.60" x2="351.90" y2="489.60" stroke="#231f20" stroke-width="0.9" />
<text x="347.00" y="491.80" font-size="6.6" text-anchor="end" fill="#333" textLength="9.90" lengthAdjust="spacingAndGlyphs">100</text>
<text x="329.70" y="572.10" font-size="8.2" fill="#2e2e2e" textLength="76.10" lengthAdjust="spacingAndGlyphs" transform="rotate(-90 329.70 572.10)">GZMB<tspan font-size="0.55em" dy="-3px">+</tspan><tspan dy="3px"> [% of CD8] + SEM</tspan></text>
<text x="359.70" y="482.30" font-size="8.2" fill="#2a2a2a" textLength="46.60" lengthAdjust="spacingAndGlyphs">Granzyme-B</text>
<line x1="361.70" y1="580.20" x2="361.70" y2="582.60" stroke="#231f20" stroke-width="0.9" />
<rect x="357.70" y="570.40" width="8.00" height="9.80" fill="#a1a9b8" />
<circle cx="361.50" cy="560.10" r="2.2" fill="#383d4d" />
<circle cx="358.00" cy="568.40" r="2.2" fill="#383d4d" />
<circle cx="361.50" cy="567.70" r="2.2" fill="#383d4d" />
<circle cx="365.00" cy="570.40" r="2.2" fill="#383d4d" />
<circle cx="358.00" cy="571.80" r="2.2" fill="#383d4d" />
<circle cx="362.00" cy="572.50" r="2.2" fill="#383d4d" />
<line x1="375.50" y1="580.20" x2="375.50" y2="582.60" stroke="#231f20" stroke-width="0.9" />
<rect x="371.50" y="550.40" width="8.00" height="29.80" fill="#fcdd8c" />
<line x1="375.50" y1="550.40" x2="375.50" y2="543.50" stroke="#2b2b2b" stroke-width="1.0" />
<line x1="373.80" y1="543.50" x2="377.20" y2="543.50" stroke="#2b2b2b" stroke-width="1.0" />
<circle cx="375.60" cy="529.00" r="2.2" fill="#eab82a" />
<circle cx="375.60" cy="540.30" r="2.2" fill="#eab82a" />
<circle cx="372.50" cy="556.60" r="2.2" fill="#eab82a" />
<circle cx="378.50" cy="556.60" r="2.2" fill="#eab82a" />
<circle cx="375.60" cy="568.00" r="2.2" fill="#eab82a" />
<line x1="389.30" y1="580.20" x2="389.30" y2="582.60" stroke="#231f20" stroke-width="0.9" />
<rect x="385.30" y="569.00" width="8.00" height="11.20" fill="#8ca7cb" />
<line x1="389.30" y1="569.00" x2="389.30" y2="567.00" stroke="#2b2b2b" stroke-width="1.0" />
<line x1="387.60" y1="567.00" x2="391.00" y2="567.00" stroke="#2b2b2b" stroke-width="1.0" />
<circle cx="389.40" cy="562.40" r="2.2" fill="#174c7c" />
<circle cx="387.00" cy="570.70" r="2.2" fill="#174c7c" />
<circle cx="390.00" cy="572.50" r="2.2" fill="#174c7c" />
<circle cx="392.00" cy="574.60" r="2.2" fill="#174c7c" />
<circle cx="388.00" cy="577.30" r="2.2" fill="#174c7c" />
<line x1="403.10" y1="580.20" x2="403.10" y2="582.60" stroke="#231f20" stroke-width="0.9" />
<rect x="399.10" y="560.80" width="8.00" height="19.40" fill="#e18598" />
<line x1="403.10" y1="560.80" x2="403.10" y2="552.80" stroke="#2b2b2b" stroke-width="1.0" />
<line x1="401.40" y1="552.80" x2="404.80" y2="552.80" stroke="#2b2b2b" stroke-width="1.0" />
<circle cx="403.20" cy="536.60" r="2.2" fill="#b3173f" />
<circle cx="403.20" cy="548.60" r="2.2" fill="#b3173f" />
<circle cx="403.20" cy="568.00" r="2.2" fill="#b3173f" />
<circle cx="400.00" cy="575.30" r="2.2" fill="#b3173f" />
<circle cx="405.70" cy="573.50" r="2.2" fill="#b3173f" />
<line x1="363.10" y1="520.70" x2="376.00" y2="520.70" stroke="#4a4a4a" stroke-width="1.0" />
<text x="369.50" y="522.00" font-size="7.0" text-anchor="middle" fill="#2a2a2a">*</text>
<line x1="376.00" y1="514.10" x2="390.30" y2="514.10" stroke="#4a4a4a" stroke-width="1.0" />
<text x="383.00" y="515.40" font-size="7.0" text-anchor="middle" fill="#2a2a2a">**</text>
<line x1="454.00" y1="489.10" x2="454.00" y2="580.90" stroke="#231f20" stroke-width="1.3" />
<line x1="453.35" y1="580.20" x2="513.70" y2="580.20" stroke="#231f20" stroke-width="1.4" />
<line x1="451.60" y1="580.20" x2="454.00" y2="580.20" stroke="#231f20" stroke-width="0.9" />
<text x="449.10" y="582.40" font-size="6.6" text-anchor="end" fill="#333" textLength="3.30" lengthAdjust="spacingAndGlyphs">0</text>
<line x1="451.60" y1="562.42" x2="454.00" y2="562.42" stroke="#231f20" stroke-width="0.9" />
<text x="449.10" y="564.62" font-size="6.6" text-anchor="end" fill="#333" textLength="6.60" lengthAdjust="spacingAndGlyphs">20</text>
<line x1="451.60" y1="544.64" x2="454.00" y2="544.64" stroke="#231f20" stroke-width="0.9" />
<text x="449.10" y="546.84" font-size="6.6" text-anchor="end" fill="#333" textLength="6.60" lengthAdjust="spacingAndGlyphs">40</text>
<line x1="451.60" y1="526.86" x2="454.00" y2="526.86" stroke="#231f20" stroke-width="0.9" />
<text x="449.10" y="529.06" font-size="6.6" text-anchor="end" fill="#333" textLength="6.60" lengthAdjust="spacingAndGlyphs">60</text>
<line x1="451.60" y1="509.08" x2="454.00" y2="509.08" stroke="#231f20" stroke-width="0.9" />
<text x="449.10" y="511.28" font-size="6.6" text-anchor="end" fill="#333" textLength="6.60" lengthAdjust="spacingAndGlyphs">80</text>
<line x1="451.60" y1="491.30" x2="454.00" y2="491.30" stroke="#231f20" stroke-width="0.9" />
<text x="449.10" y="493.50" font-size="6.6" text-anchor="end" fill="#333" textLength="9.90" lengthAdjust="spacingAndGlyphs">100</text>
<text x="432.90" y="578.50" font-size="8.2" fill="#2e2e2e" textLength="88.90" lengthAdjust="spacingAndGlyphs" transform="rotate(-90 432.90 578.50)">PD1<tspan font-size="0.55em" dy="-3px">+</tspan><tspan dy="3px">Tim-3<tspan font-size="0.55em" dy="-3px">+</tspan><tspan dy="3px"> [% of CD8] + SEM</tspan></tspan></text>
<text x="461.90" y="482.10" font-size="8.2" fill="#2a2a2a" textLength="42.60" lengthAdjust="spacingAndGlyphs">PD1<tspan font-size="0.55em" dy="-3px">+</tspan><tspan dy="3px">/Tim3<tspan font-size="0.55em" dy="-3px">+</tspan><tspan dy="3px"></tspan></tspan></text>
<line x1="462.50" y1="580.20" x2="462.50" y2="582.60" stroke="#231f20" stroke-width="0.9" />
<rect x="458.50" y="579.00" width="8.00" height="1.20" fill="#a1a9b8" />
<circle cx="460.50" cy="579.00" r="2.2" fill="#383d4d" />
<circle cx="462.50" cy="578.50" r="2.2" fill="#383d4d" />
<circle cx="464.50" cy="579.00" r="2.2" fill="#383d4d" />
<circle cx="462.00" cy="580.00" r="2.2" fill="#383d4d" />
<line x1="475.60" y1="580.20" x2="475.60" y2="582.60" stroke="#231f20" stroke-width="0.9" />
<rect x="471.60" y="578.50" width="8.00" height="1.70" fill="#fcdd8c" />
<circle cx="474.00" cy="578.00" r="2.2" fill="#eab82a" />
<circle cx="476.50" cy="577.50" r="2.2" fill="#eab82a" />
<circle cx="477.50" cy="579.00" r="2.2" fill="#eab82a" />
<circle cx="475.00" cy="579.50" r="2.2" fill="#eab82a" />
<line x1="490.00" y1="580.20" x2="490.00" y2="582.60" stroke="#231f20" stroke-width="0.9" />
<rect x="486.00" y="579.00" width="8.00" height="1.20" fill="#8ca7cb" />
<circle cx="488.00" cy="579.00" r="2.2" fill="#174c7c" />
<circle cx="490.00" cy="578.50" r="2.2" fill="#174c7c" />
<circle cx="492.00" cy="579.00" r="2.2" fill="#174c7c" />
<circle cx="490.00" cy="580.00" r="2.2" fill="#174c7c" />
<line x1="502.70" y1="580.20" x2="502.70" y2="582.60" stroke="#231f20" stroke-width="0.9" />
<rect x="498.70" y="578.00" width="8.00" height="2.20" fill="#e18598" />
<circle cx="501.50" cy="574.20" r="2.2" fill="#b3173f" />
<circle cx="503.50" cy="578.50" r="2.2" fill="#b3173f" />
<circle cx="505.50" cy="579.00" r="2.2" fill="#b3173f" />
<circle cx="501.50" cy="579.50" r="2.2" fill="#b3173f" />
<line x1="172.70" y1="595.60" x2="188.20" y2="595.60" stroke="#383d4d" stroke-width="1.0" />
<circle cx="180.60" cy="595.60" r="2.4" fill="#383d4d" />
<text x="191.00" y="597.90" font-size="6.3" fill="#3a3a3a" textLength="20.20" lengthAdjust="spacingAndGlyphs">Vehicle</text>
<line x1="172.70" y1="605.50" x2="188.20" y2="605.50" stroke="#eab82a" stroke-width="1.0" />
<circle cx="180.60" cy="605.50" r="2.4" fill="#eab82a" />
<text x="191.00" y="607.80" font-size="6.3" fill="#3a3a3a" textLength="49.00" lengthAdjust="spacingAndGlyphs">Gpt + glofitamab</text>
<line x1="248.80" y1="595.60" x2="264.30" y2="595.60" stroke="#b3173f" stroke-width="1.0" />
<circle cx="256.70" cy="595.60" r="2.4" fill="#b3173f" />
<text x="267.20" y="597.90" font-size="6.3" fill="#3a3a3a" textLength="79.80" lengthAdjust="spacingAndGlyphs">Gpt + glofitamab + GemOx</text>
<line x1="248.80" y1="605.60" x2="264.30" y2="605.60" stroke="#174c7c" stroke-width="1.0" />
<circle cx="256.70" cy="605.60" r="2.4" fill="#174c7c" />
<text x="267.20" y="607.90" font-size="6.3" fill="#3a3a3a" textLength="41.30" lengthAdjust="spacingAndGlyphs">Gpt + GemOx</text>
<rect x="0.5" y="0.5" width="519" height="615" fill="none" stroke="#5a5a5a" stroke-width="1"/>
</svg>
</body></html>
